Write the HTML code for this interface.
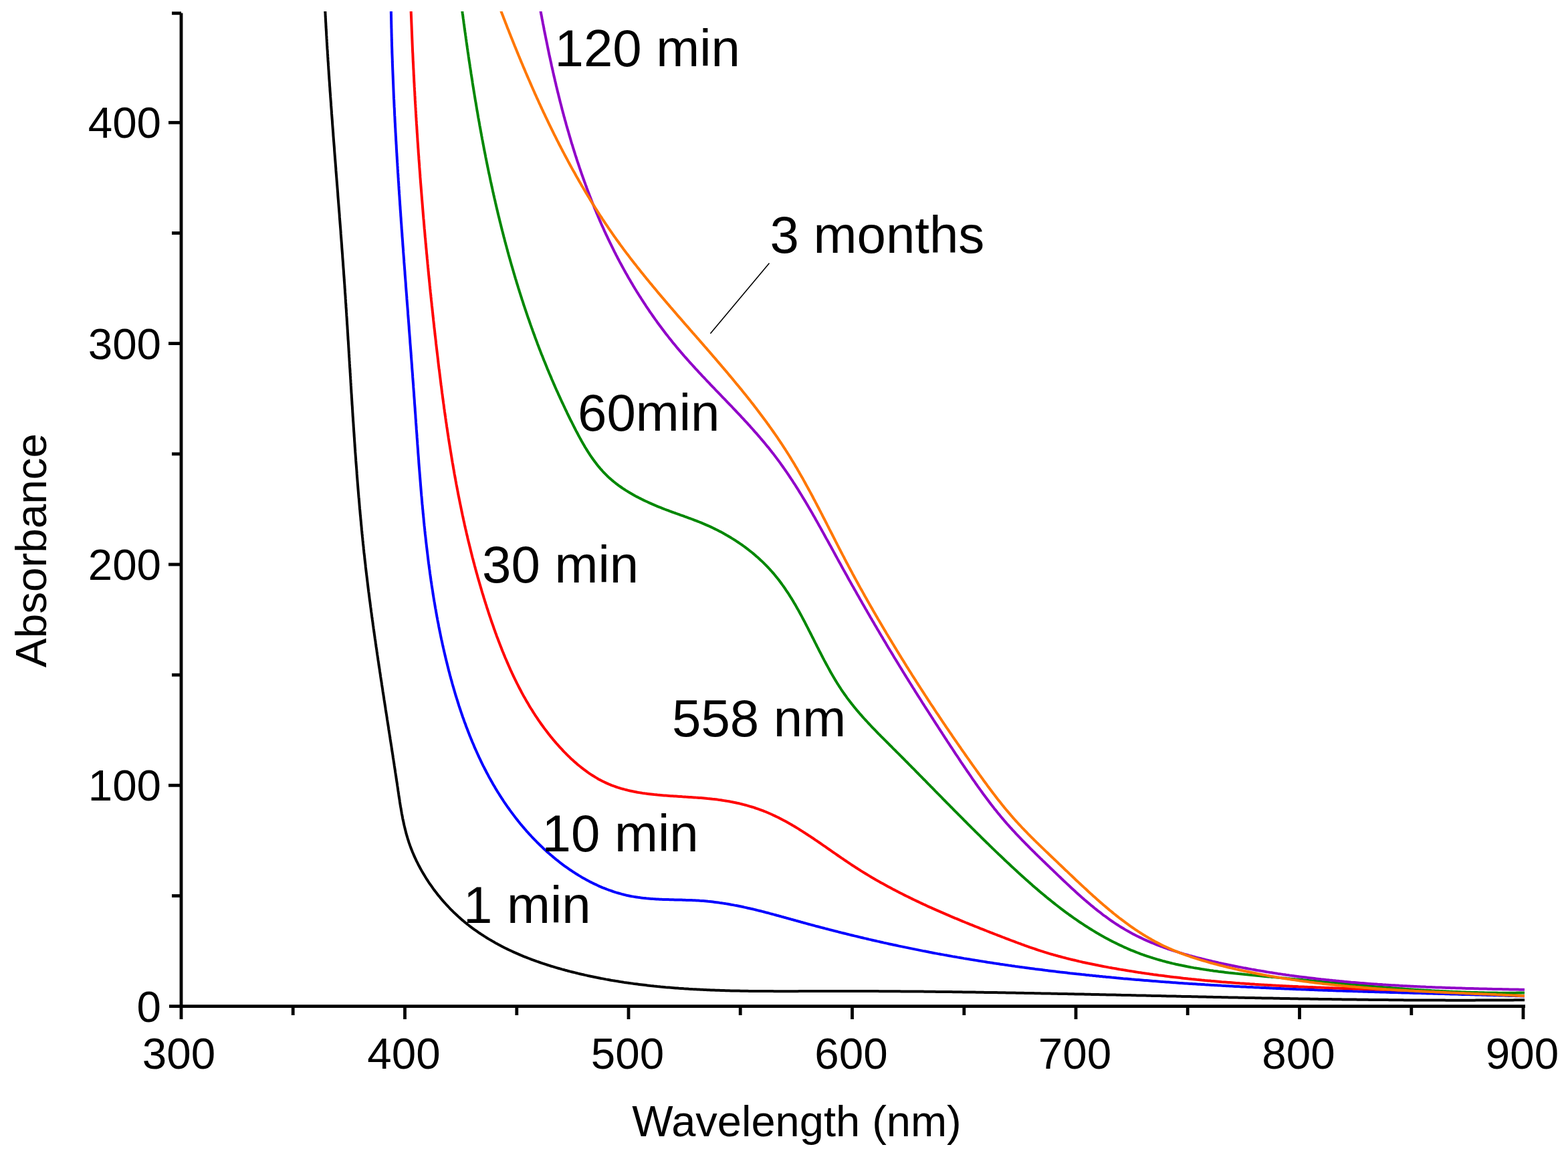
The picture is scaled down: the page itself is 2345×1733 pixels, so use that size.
<!DOCTYPE html>
<html><head><meta charset="utf-8"><title>Absorbance vs Wavelength</title>
<style>
html,body{margin:0;padding:0;background:#fff;overflow:hidden;}
svg{display:block;}
text{font-family:"Liberation Sans",Arial,sans-serif;fill:#000;}
</style></head>
<body>
<svg width="2345" height="1733" viewBox="0 0 2345 1733">
<rect width="2345" height="1733" fill="#fff"/>
<defs><clipPath id="plot"><rect x="271" y="17" width="2015" height="1490"/></clipPath></defs>
<g clip-path="url(#plot)" fill="none" stroke-width="4.0" stroke-linejoin="round">
<path d="M485.7,5.0 485.8,7.5 485.9,10.0 486.1,12.5 486.2,15.0 486.3,17.5 486.5,20.0 486.6,22.5 486.7,25.0 486.9,27.5 487.0,30.0 487.1,32.5 487.3,35.0 487.4,37.5 487.5,40.0 487.7,42.5 487.8,45.0 488.0,47.5 488.1,49.9 488.2,52.4 488.4,54.9 488.5,57.4 488.7,59.9 488.8,62.4 489.0,64.9 489.1,67.4 489.3,69.9 489.4,72.4 489.6,74.9 489.8,77.4 489.9,79.9 490.1,82.4 490.2,84.9 490.4,87.4 490.5,89.9 490.7,92.4 490.9,94.9 491.0,97.4 491.2,99.9 491.3,102.3 491.5,104.8 491.7,107.3 491.8,109.8 492.0,112.3 492.2,114.8 492.3,117.3 492.5,119.8 492.7,122.3 492.9,124.8 493.0,127.3 493.2,129.8 493.4,132.3 493.5,134.8 493.7,137.3 493.9,139.8 494.1,142.3 494.2,144.7 494.4,147.2 494.6,149.7 494.8,152.2 495.0,154.7 495.1,157.2 495.3,159.7 495.5,162.2 495.7,164.7 495.9,167.2 496.0,169.7 496.2,172.2 496.4,174.7 496.6,177.2 496.8,179.7 497.0,182.2 497.1,184.6 497.3,187.1 497.5,189.6 497.7,192.1 497.9,194.6 498.1,197.1 498.3,199.6 498.4,202.1 498.6,204.6 498.8,207.1 499.0,209.6 499.2,212.1 499.4,214.6 499.6,217.1 499.8,219.5 500.0,222.0 500.1,224.5 500.3,227.0 500.5,229.5 500.7,232.0 500.9,234.5 501.1,237.0 501.3,239.5 501.5,242.0 501.7,244.5 501.9,247.0 502.1,249.5 502.3,252.0 502.4,254.4 502.6,256.9 502.8,259.4 503.0,261.9 503.2,264.4 503.4,266.9 503.6,269.4 503.8,271.9 504.0,274.4 504.2,276.9 504.4,279.4 504.6,281.9 504.8,284.4 505.0,286.8 505.2,289.3 505.3,291.8 505.5,294.3 505.7,296.8 505.9,299.3 506.1,301.8 506.3,304.3 506.5,306.8 506.7,309.3 506.9,311.8 507.1,314.3 507.3,316.8 507.5,319.2 507.7,321.7 507.8,324.2 508.0,326.7 508.2,329.2 508.4,331.7 508.6,334.2 508.8,336.7 509.0,339.2 509.2,341.7 509.4,344.2 509.6,346.7 509.7,349.2 509.9,351.7 510.1,354.1 510.3,356.6 510.5,359.1 510.7,361.6 510.9,364.1 511.1,366.6 511.2,369.1 511.4,371.6 511.6,374.1 511.8,376.6 512.0,379.1 512.2,381.6 512.3,384.1 512.5,386.6 512.7,389.1 512.9,391.5 513.1,394.0 513.2,396.5 513.4,399.0 513.6,401.5 513.8,404.0 514.0,406.5 514.1,409.0 514.3,411.5 514.5,414.0 514.7,416.5 514.8,419.0 515.0,421.5 515.2,424.0 515.4,426.5 515.5,429.0 515.7,431.4 515.9,433.9 516.0,436.4 516.2,438.9 516.4,441.4 516.6,443.9 516.7,446.4 516.9,448.9 517.0,451.4 517.2,453.9 517.4,456.4 517.5,458.9 517.7,461.4 517.9,463.9 518.0,466.4 518.2,468.9 518.3,471.4 518.5,473.9 518.7,476.3 518.8,478.8 519.0,481.3 519.1,483.8 519.3,486.3 519.5,488.8 519.6,491.3 519.8,493.8 519.9,496.3 520.1,498.8 520.2,501.3 520.4,503.8 520.5,506.3 520.7,508.8 520.9,511.3 521.0,513.8 521.2,516.3 521.3,518.8 521.5,521.3 521.6,523.8 521.8,526.3 521.9,528.7 522.1,531.2 522.2,533.7 522.4,536.2 522.5,538.7 522.7,541.2 522.8,543.7 523.0,546.2 523.1,548.7 523.3,551.2 523.5,553.7 523.6,556.2 523.8,558.7 523.9,561.2 524.1,563.7 524.2,566.2 524.4,568.7 524.5,571.2 524.7,573.7 524.8,576.2 525.0,578.7 525.1,581.1 525.3,583.6 525.4,586.1 525.6,588.6 525.8,591.1 525.9,593.6 526.1,596.1 526.2,598.6 526.4,601.1 526.5,603.6 526.7,606.1 526.9,608.6 527.0,611.1 527.2,613.6 527.3,616.1 527.5,618.6 527.6,621.1 527.8,623.6 528.0,626.1 528.1,628.6 528.3,631.0 528.5,633.5 528.6,636.0 528.8,638.5 529.0,641.0 529.1,643.5 529.3,646.0 529.5,648.5 529.6,651.0 529.8,653.5 530.0,656.0 530.1,658.5 530.3,661.0 530.5,663.5 530.6,666.0 530.8,668.5 531.0,671.0 531.2,673.5 531.3,675.9 531.5,678.4 531.7,680.9 531.9,683.4 532.1,685.9 532.2,688.4 532.4,690.9 532.6,693.4 532.8,695.9 533.0,698.4 533.2,700.9 533.4,703.4 533.6,705.9 533.7,708.4 533.9,710.9 534.1,713.3 534.3,715.8 534.5,718.3 534.7,720.8 534.9,723.3 535.1,725.8 535.3,728.3 535.5,730.8 535.7,733.3 535.9,735.8 536.1,738.3 536.3,740.8 536.5,743.2 536.8,745.7 537.0,748.2 537.2,750.7 537.4,753.2 537.6,755.7 537.8,758.2 538.0,760.7 538.3,763.2 538.5,765.7 538.7,768.2 538.9,770.6 539.2,773.1 539.4,775.6 539.6,778.1 539.9,780.6 540.1,783.1 540.3,785.6 540.6,788.1 540.8,790.6 541.0,793.0 541.3,795.5 541.5,798.0 541.8,800.5 542.0,803.0 542.3,805.5 542.5,808.0 542.8,810.5 543.0,812.9 543.3,815.4 543.6,817.9 543.8,820.4 544.1,822.9 544.3,825.4 544.6,827.9 544.9,830.3 545.2,832.8 545.4,835.3 545.7,837.8 546.0,840.3 546.3,842.8 546.6,845.3 546.8,847.7 547.1,850.2 547.4,852.7 547.7,855.2 548.0,857.7 548.3,860.2 548.6,862.6 548.9,865.1 549.2,867.6 549.5,870.1 549.8,872.6 550.1,875.0 550.4,877.5 550.7,880.0 551.0,882.5 551.3,885.0 551.7,887.4 552.0,889.9 552.3,892.4 552.6,894.9 552.9,897.4 553.3,899.8 553.6,902.3 553.9,904.8 554.2,907.3 554.6,909.8 554.9,912.2 555.2,914.7 555.6,917.2 555.9,919.7 556.2,922.1 556.6,924.6 556.9,927.1 557.3,929.6 557.6,932.0 557.9,934.5 558.3,937.0 558.6,939.5 559.0,942.0 559.3,944.4 559.7,946.9 560.0,949.4 560.4,951.9 560.7,954.3 561.1,956.8 561.5,959.3 561.8,961.8 562.2,964.2 562.5,966.7 562.9,969.2 563.3,971.6 563.6,974.1 564.0,976.6 564.3,979.1 564.7,981.5 565.1,984.0 565.4,986.5 565.8,989.0 566.2,991.4 566.5,993.9 566.9,996.4 567.3,998.9 567.7,1001.3 568.0,1003.8 568.4,1006.3 568.8,1008.7 569.1,1011.2 569.5,1013.7 569.9,1016.2 570.3,1018.6 570.7,1021.1 571.0,1023.6 571.4,1026.0 571.8,1028.5 572.2,1031.0 572.5,1033.5 572.9,1035.9 573.3,1038.4 573.7,1040.9 574.1,1043.3 574.4,1045.8 574.8,1048.3 575.2,1050.7 575.6,1053.2 576.0,1055.7 576.4,1058.2 576.7,1060.6 577.1,1063.1 577.5,1065.6 577.9,1068.0 578.3,1070.5 578.7,1073.0 579.0,1075.5 579.4,1077.9 579.8,1080.4 580.2,1082.9 580.6,1085.3 581.0,1087.8 581.3,1090.3 581.7,1092.7 582.1,1095.2 582.5,1097.7 582.9,1100.2 583.3,1102.6 583.6,1105.1 584.0,1107.6 584.4,1110.0 584.8,1112.5 585.2,1115.0 585.6,1117.5 585.9,1119.9 586.3,1122.4 586.7,1124.9 587.1,1127.3 587.5,1129.8 587.8,1132.3 588.2,1134.7 588.6,1137.2 589.0,1139.7 589.4,1142.2 589.7,1144.6 590.1,1147.1 590.5,1149.6 590.9,1152.0 591.2,1154.5 591.6,1157.0 592.0,1159.5 592.4,1161.9 592.7,1164.4 593.1,1166.9 593.5,1169.3 593.9,1171.8 594.2,1174.3 594.6,1176.8 595.0,1179.2 595.3,1181.7 595.7,1184.2 596.1,1186.7 596.4,1189.1 596.8,1191.6 597.2,1194.1 597.6,1196.5 597.9,1199.0 598.3,1201.5 598.7,1204.0 599.1,1206.4 599.6,1208.9 600.0,1211.3 600.4,1213.8 600.8,1216.3 601.3,1218.7 601.8,1221.2 602.2,1223.6 602.7,1226.1 603.3,1228.5 603.8,1231.0 604.3,1233.4 604.9,1235.9 605.5,1238.3 606.1,1240.7 606.7,1243.1 607.3,1245.6 608.0,1248.0 608.7,1250.4 609.4,1252.8 610.1,1255.2 610.9,1257.5 611.6,1259.9 612.5,1262.3 613.3,1264.6 614.2,1267.0 615.0,1269.3 616.0,1271.6 616.9,1274.0 617.9,1276.3 618.9,1278.6 619.9,1280.9 620.9,1283.1 622.0,1285.4 623.0,1287.6 624.2,1289.9 625.3,1292.1 626.4,1294.3 627.6,1296.5 628.8,1298.7 630.0,1300.9 631.2,1303.1 632.5,1305.3 633.8,1307.4 635.1,1309.6 636.4,1311.7 637.7,1313.8 639.1,1315.9 640.4,1318.0 641.8,1320.1 643.2,1322.1 644.7,1324.2 646.1,1326.2 647.6,1328.3 649.0,1330.3 650.5,1332.3 652.1,1334.3 653.6,1336.2 655.1,1338.2 656.7,1340.1 658.3,1342.1 659.9,1344.0 661.5,1345.9 663.2,1347.8 664.8,1349.7 666.5,1351.5 668.2,1353.4 669.9,1355.2 671.6,1357.0 673.3,1358.8 675.1,1360.6 676.9,1362.4 678.6,1364.1 680.4,1365.8 682.3,1367.5 684.1,1369.2 685.9,1370.9 687.8,1372.6 689.7,1374.2 691.6,1375.9 693.5,1377.5 695.4,1379.1 697.4,1380.6 699.3,1382.2 701.3,1383.8 703.3,1385.3 705.3,1386.8 707.3,1388.3 709.3,1389.8 711.3,1391.2 713.4,1392.7 715.4,1394.1 717.5,1395.5 719.6,1396.9 721.7,1398.2 723.8,1399.6 725.9,1400.9 728.0,1402.3 730.1,1403.6 732.3,1404.9 734.4,1406.1 736.6,1407.4 738.7,1408.6 740.9,1409.9 743.1,1411.1 745.3,1412.3 747.5,1413.4 749.7,1414.6 751.9,1415.7 754.2,1416.9 756.4,1418.0 758.7,1419.1 760.9,1420.2 763.2,1421.3 765.4,1422.3 767.7,1423.4 770.0,1424.4 772.3,1425.4 774.6,1426.4 776.9,1427.4 779.2,1428.4 781.5,1429.3 783.8,1430.3 786.1,1431.2 788.4,1432.1 790.8,1433.0 793.1,1433.9 795.4,1434.8 797.8,1435.7 800.1,1436.5 802.5,1437.4 804.8,1438.2 807.2,1439.0 809.6,1439.8 811.9,1440.6 814.3,1441.4 816.7,1442.2 819.1,1443.0 821.4,1443.7 823.8,1444.5 826.2,1445.2 828.6,1445.9 831.0,1446.6 833.4,1447.3 835.8,1448.0 838.2,1448.7 840.6,1449.4 843.0,1450.0 845.4,1450.7 847.9,1451.3 850.3,1452.0 852.7,1452.6 855.1,1453.2 857.5,1453.8 860.0,1454.4 862.4,1455.0 864.8,1455.6 867.3,1456.2 869.7,1456.8 872.1,1457.3 874.6,1457.9 877.0,1458.4 879.4,1459.0 881.9,1459.5 884.3,1460.0 886.8,1460.5 889.2,1461.0 891.7,1461.5 894.1,1462.0 896.6,1462.5 899.0,1463.0 901.5,1463.4 904.0,1463.9 906.4,1464.4 908.9,1464.8 911.3,1465.2 913.8,1465.7 916.3,1466.1 918.7,1466.5 921.2,1466.9 923.7,1467.3 926.1,1467.7 928.6,1468.1 931.1,1468.5 933.5,1468.9 936.0,1469.2 938.5,1469.6 941.0,1469.9 943.4,1470.3 945.9,1470.6 948.4,1471.0 950.9,1471.3 953.3,1471.6 955.8,1471.9 958.3,1472.2 960.8,1472.5 963.3,1472.8 965.8,1473.1 968.2,1473.4 970.7,1473.7 973.2,1474.0 975.7,1474.2 978.2,1474.5 980.7,1474.7 983.2,1475.0 985.6,1475.2 988.1,1475.5 990.6,1475.7 993.1,1475.9 995.6,1476.2 998.1,1476.4 1000.6,1476.6 1003.1,1476.8 1005.6,1477.0 1008.1,1477.2 1010.6,1477.4 1013.0,1477.6 1015.5,1477.8 1018.0,1477.9 1020.5,1478.1 1023.0,1478.3 1025.5,1478.4 1028.0,1478.6 1030.5,1478.8 1033.0,1478.9 1035.5,1479.1 1038.0,1479.2 1040.5,1479.3 1043.0,1479.5 1045.5,1479.6 1048.0,1479.7 1050.5,1479.8 1053.0,1480.0 1055.5,1480.1 1058.0,1480.2 1060.5,1480.3 1063.0,1480.4 1065.5,1480.5 1068.0,1480.6 1070.5,1480.7 1073.0,1480.8 1075.5,1480.8 1078.0,1480.9 1080.5,1481.0 1082.9,1481.1 1085.4,1481.2 1087.9,1481.2 1090.4,1481.3 1092.9,1481.4 1095.4,1481.4 1097.9,1481.5 1100.4,1481.5 1102.9,1481.6 1105.4,1481.6 1107.9,1481.7 1110.4,1481.7 1112.9,1481.8 1115.4,1481.8 1117.9,1481.8 1120.4,1481.9 1122.9,1481.9 1125.4,1481.9 1127.9,1482.0 1130.4,1482.0 1132.9,1482.0 1135.4,1482.0 1137.9,1482.1 1140.4,1482.1 1142.9,1482.1 1145.4,1482.1 1147.9,1482.1 1150.4,1482.1 1152.9,1482.1 1155.4,1482.1 1157.9,1482.2 1160.4,1482.2 1162.9,1482.2 1165.4,1482.2 1167.9,1482.2 1170.4,1482.2 1172.9,1482.2 1175.4,1482.2 1177.9,1482.2 1180.4,1482.2 1182.9,1482.2 1185.4,1482.2 1187.9,1482.2 1190.4,1482.2 1192.9,1482.2 1195.4,1482.1 1197.9,1482.1 1200.4,1482.1 1202.9,1482.1 1205.4,1482.1 1207.9,1482.1 1210.4,1482.1 1212.9,1482.1 1215.4,1482.1 1217.9,1482.1 1220.4,1482.1 1222.9,1482.1 1225.4,1482.1 1227.9,1482.1 1230.4,1482.0 1232.9,1482.0 1235.4,1482.0 1237.9,1482.0 1240.4,1482.0 1242.9,1482.0 1245.4,1482.0 1247.9,1482.0 1250.4,1482.0 1252.9,1482.0 1255.4,1482.0 1257.9,1482.0 1260.4,1482.0 1262.9,1482.0 1265.4,1482.0 1267.9,1482.0 1270.4,1482.0 1272.9,1482.0 1275.4,1482.0 1277.9,1482.0 1280.4,1482.0 1282.9,1482.0 1285.4,1482.0 1287.9,1482.0 1290.4,1482.1 1292.9,1482.1 1295.4,1482.1 1297.9,1482.1 1300.4,1482.1 1302.9,1482.1 1305.4,1482.1 1307.9,1482.1 1310.4,1482.1 1312.9,1482.1 1315.4,1482.2 1317.9,1482.2 1320.4,1482.2 1322.9,1482.2 1325.4,1482.2 1327.9,1482.2 1330.4,1482.2 1332.9,1482.3 1335.4,1482.3 1337.9,1482.3 1340.4,1482.3 1342.9,1482.3 1345.4,1482.3 1347.9,1482.4 1350.4,1482.4 1352.9,1482.4 1355.4,1482.4 1357.9,1482.4 1360.4,1482.5 1362.9,1482.5 1365.4,1482.5 1367.9,1482.5 1370.4,1482.6 1372.9,1482.6 1375.4,1482.6 1377.9,1482.6 1380.4,1482.6 1382.9,1482.7 1385.4,1482.7 1387.9,1482.7 1390.4,1482.8 1392.9,1482.8 1395.4,1482.8 1397.9,1482.8 1400.4,1482.9 1402.9,1482.9 1405.4,1482.9 1407.9,1483.0 1410.4,1483.0 1412.9,1483.0 1415.4,1483.0 1417.9,1483.1 1420.4,1483.1 1422.9,1483.1 1425.4,1483.2 1427.9,1483.2 1430.4,1483.2 1432.9,1483.3 1435.4,1483.3 1437.9,1483.3 1440.4,1483.4 1442.9,1483.4 1445.4,1483.4 1447.9,1483.5 1450.4,1483.5 1452.9,1483.6 1455.4,1483.6 1457.9,1483.6 1460.4,1483.7 1462.9,1483.7 1465.4,1483.7 1467.9,1483.8 1470.4,1483.8 1472.9,1483.9 1475.4,1483.9 1477.9,1483.9 1480.4,1484.0 1482.9,1484.0 1485.4,1484.1 1487.9,1484.1 1490.4,1484.1 1492.9,1484.2 1495.4,1484.2 1497.9,1484.3 1500.4,1484.3 1502.9,1484.3 1505.4,1484.4 1507.9,1484.4 1510.4,1484.5 1512.9,1484.5 1515.4,1484.6 1517.9,1484.6 1520.4,1484.7 1522.9,1484.7 1525.4,1484.7 1527.9,1484.8 1530.4,1484.8 1532.9,1484.9 1535.4,1484.9 1537.9,1485.0 1540.4,1485.0 1542.9,1485.1 1545.4,1485.1 1547.9,1485.2 1550.4,1485.2 1552.9,1485.3 1555.4,1485.3 1557.9,1485.4 1560.4,1485.4 1562.9,1485.5 1565.4,1485.5 1567.9,1485.6 1570.4,1485.6 1572.9,1485.7 1575.4,1485.7 1577.9,1485.8 1580.4,1485.8 1582.9,1485.9 1585.4,1485.9 1587.9,1486.0 1590.4,1486.0 1592.9,1486.1 1595.4,1486.1 1597.9,1486.2 1600.4,1486.2 1602.9,1486.3 1605.4,1486.3 1607.9,1486.4 1610.4,1486.4 1612.9,1486.5 1615.4,1486.5 1617.9,1486.6 1620.4,1486.6 1622.9,1486.7 1625.4,1486.7 1627.9,1486.8 1630.4,1486.8 1632.9,1486.9 1635.4,1486.9 1637.9,1487.0 1640.4,1487.1 1642.9,1487.1 1645.4,1487.2 1647.9,1487.2 1650.4,1487.3 1652.9,1487.3 1655.4,1487.4 1657.9,1487.4 1660.4,1487.5 1662.9,1487.5 1665.4,1487.6 1667.9,1487.6 1670.4,1487.7 1672.9,1487.8 1675.4,1487.8 1677.9,1487.9 1680.4,1487.9 1682.9,1488.0 1685.4,1488.0 1687.9,1488.1 1690.4,1488.1 1692.9,1488.2 1695.4,1488.3 1697.9,1488.3 1700.4,1488.4 1702.9,1488.4 1705.4,1488.5 1707.9,1488.5 1710.4,1488.6 1712.9,1488.6 1715.4,1488.7 1717.9,1488.8 1720.4,1488.8 1722.9,1488.9 1725.4,1488.9 1727.9,1489.0 1730.4,1489.0 1732.9,1489.1 1735.4,1489.1 1737.9,1489.2 1740.4,1489.3 1742.9,1489.3 1745.4,1489.4 1747.9,1489.4 1750.4,1489.5 1752.9,1489.5 1755.4,1489.6 1757.9,1489.6 1760.4,1489.7 1762.9,1489.7 1765.4,1489.8 1767.9,1489.9 1770.4,1489.9 1772.9,1490.0 1775.4,1490.0 1777.9,1490.1 1780.4,1490.1 1782.9,1490.2 1785.4,1490.2 1787.9,1490.3 1790.4,1490.3 1792.9,1490.4 1795.4,1490.5 1797.9,1490.5 1800.4,1490.6 1802.9,1490.6 1805.4,1490.7 1807.9,1490.7 1810.4,1490.8 1812.9,1490.8 1815.4,1490.9 1817.9,1490.9 1820.4,1491.0 1822.9,1491.0 1825.4,1491.1 1827.9,1491.2 1830.4,1491.2 1832.9,1491.3 1835.4,1491.3 1837.9,1491.4 1840.4,1491.4 1842.9,1491.5 1845.3,1491.5 1847.8,1491.6 1850.3,1491.6 1852.8,1491.7 1855.3,1491.7 1857.8,1491.8 1860.3,1491.8 1862.8,1491.9 1865.3,1491.9 1867.8,1492.0 1870.3,1492.0 1872.8,1492.1 1875.3,1492.1 1877.8,1492.2 1880.3,1492.2 1882.8,1492.3 1885.3,1492.3 1887.8,1492.4 1890.3,1492.4 1892.8,1492.5 1895.3,1492.5 1897.8,1492.6 1900.3,1492.6 1902.8,1492.6 1905.3,1492.7 1907.8,1492.7 1910.3,1492.8 1912.8,1492.8 1915.3,1492.9 1917.8,1492.9 1920.3,1493.0 1922.8,1493.0 1925.3,1493.1 1927.8,1493.1 1930.3,1493.2 1932.8,1493.2 1935.3,1493.2 1937.8,1493.3 1940.3,1493.3 1942.8,1493.4 1945.3,1493.4 1947.8,1493.5 1950.3,1493.5 1952.8,1493.5 1955.3,1493.6 1957.8,1493.6 1960.3,1493.7 1962.8,1493.7 1965.3,1493.7 1967.8,1493.8 1970.3,1493.8 1972.8,1493.9 1975.3,1493.9 1977.8,1493.9 1980.3,1494.0 1982.8,1494.0 1985.3,1494.1 1987.8,1494.1 1990.3,1494.1 1992.8,1494.2 1995.3,1494.2 1997.8,1494.2 2000.3,1494.3 2002.8,1494.3 2005.3,1494.3 2007.8,1494.4 2010.3,1494.4 2012.8,1494.4 2015.3,1494.5 2017.8,1494.5 2020.3,1494.5 2022.8,1494.6 2025.3,1494.6 2027.8,1494.6 2030.3,1494.7 2032.8,1494.7 2035.3,1494.7 2037.8,1494.8 2040.3,1494.8 2042.8,1494.8 2045.3,1494.8 2047.8,1494.9 2050.3,1494.9 2052.8,1494.9 2055.3,1495.0 2057.8,1495.0 2060.3,1495.0 2062.8,1495.0 2065.3,1495.1 2067.8,1495.1 2070.3,1495.1 2072.8,1495.1 2075.3,1495.1 2077.8,1495.2 2080.3,1495.2 2082.8,1495.2 2085.3,1495.2 2087.8,1495.3 2090.3,1495.3 2092.8,1495.3 2095.3,1495.3 2097.8,1495.3 2100.3,1495.4 2102.8,1495.4 2105.3,1495.4 2107.8,1495.4 2110.3,1495.4 2112.8,1495.4 2115.3,1495.5 2117.8,1495.5 2120.3,1495.5 2122.8,1495.5 2125.3,1495.5 2127.8,1495.5 2130.3,1495.5 2132.8,1495.6 2135.3,1495.6 2137.8,1495.6 2140.3,1495.6 2142.8,1495.6 2145.3,1495.6 2147.8,1495.6 2150.3,1495.6 2152.8,1495.6 2155.3,1495.6 2157.8,1495.6 2160.3,1495.6 2162.8,1495.7 2165.3,1495.7 2167.8,1495.7 2170.3,1495.7 2172.8,1495.7 2175.3,1495.7 2177.8,1495.7 2180.3,1495.7 2182.8,1495.7 2185.3,1495.7 2187.8,1495.7 2190.3,1495.7 2192.8,1495.7 2195.3,1495.7 2197.8,1495.7 2200.3,1495.7 2202.8,1495.7 2205.3,1495.7 2207.8,1495.6 2210.3,1495.6 2212.8,1495.6 2215.3,1495.6 2217.8,1495.6 2220.3,1495.6 2222.8,1495.6 2225.3,1495.6 2227.8,1495.6 2230.3,1495.6 2232.8,1495.6 2235.3,1495.5 2237.8,1495.5 2240.3,1495.5 2242.8,1495.5 2245.3,1495.5 2247.8,1495.5 2250.3,1495.5 2252.8,1495.4 2255.3,1495.4 2257.8,1495.4 2260.3,1495.4 2262.8,1495.4 2265.3,1495.3 2267.8,1495.3 2270.3,1495.3 2272.8,1495.3 2275.3,1495.3 2277.8,1495.2 2280.1,1495.2" stroke="#000000"/>
<path d="M584.7,5.0 584.7,7.5 584.8,10.0 584.8,12.5 584.9,15.0 584.9,17.5 584.9,20.0 585.0,22.5 585.0,25.0 585.1,27.5 585.1,30.0 585.2,32.5 585.2,34.9 585.3,37.4 585.3,39.9 585.4,42.4 585.5,44.9 585.5,47.4 585.6,49.9 585.6,52.4 585.7,54.9 585.8,57.4 585.8,59.9 585.9,62.4 586.0,64.9 586.0,67.4 586.1,69.9 586.2,72.4 586.3,74.9 586.3,77.4 586.4,79.9 586.5,82.4 586.6,84.9 586.7,87.4 586.8,89.9 586.8,92.4 586.9,94.9 587.0,97.4 587.1,99.9 587.2,102.4 587.3,104.9 587.4,107.4 587.5,109.9 587.6,112.4 587.7,114.9 587.8,117.4 587.9,119.9 588.0,122.4 588.1,124.9 588.2,127.4 588.3,129.9 588.4,132.4 588.5,134.9 588.6,137.4 588.7,139.9 588.8,142.4 588.9,144.9 589.0,147.4 589.2,149.9 589.3,152.4 589.4,154.9 589.5,157.4 589.6,159.9 589.8,162.4 589.9,164.9 590.0,167.4 590.1,169.9 590.2,172.4 590.4,174.9 590.5,177.3 590.6,179.8 590.7,182.3 590.9,184.8 591.0,187.3 591.1,189.8 591.3,192.3 591.4,194.8 591.5,197.3 591.7,199.8 591.8,202.3 592.0,204.8 592.1,207.3 592.2,209.8 592.4,212.3 592.5,214.8 592.7,217.3 592.8,219.8 592.9,222.3 593.1,224.8 593.2,227.3 593.4,229.8 593.5,232.3 593.7,234.8 593.8,237.3 594.0,239.8 594.1,242.2 594.3,244.7 594.4,247.2 594.6,249.7 594.7,252.2 594.9,254.7 595.0,257.2 595.2,259.7 595.4,262.2 595.5,264.7 595.7,267.2 595.8,269.7 596.0,272.2 596.2,274.7 596.3,277.2 596.5,279.7 596.6,282.2 596.8,284.7 597.0,287.2 597.1,289.7 597.3,292.1 597.5,294.6 597.6,297.1 597.8,299.6 598.0,302.1 598.1,304.6 598.3,307.1 598.5,309.6 598.6,312.1 598.8,314.6 599.0,317.1 599.2,319.6 599.3,322.1 599.5,324.6 599.7,327.1 599.8,329.6 600.0,332.1 600.2,334.5 600.4,337.0 600.5,339.5 600.7,342.0 600.9,344.5 601.1,347.0 601.3,349.5 601.4,352.0 601.6,354.5 601.8,357.0 602.0,359.5 602.2,362.0 602.3,364.5 602.5,367.0 602.7,369.5 602.9,371.9 603.1,374.4 603.2,376.9 603.4,379.4 603.6,381.9 603.8,384.4 604.0,386.9 604.2,389.4 604.3,391.9 604.5,394.4 604.7,396.9 604.9,399.4 605.1,401.9 605.3,404.4 605.5,406.9 605.6,409.3 605.8,411.8 606.0,414.3 606.2,416.8 606.4,419.3 606.6,421.8 606.8,424.3 606.9,426.8 607.1,429.3 607.3,431.8 607.5,434.3 607.7,436.8 607.9,439.3 608.1,441.8 608.3,444.2 608.4,446.7 608.6,449.2 608.8,451.7 609.0,454.2 609.2,456.7 609.4,459.2 609.6,461.7 609.8,464.2 610.0,466.7 610.1,469.2 610.3,471.7 610.5,474.2 610.7,476.7 610.9,479.1 611.1,481.6 611.3,484.1 611.5,486.6 611.7,489.1 611.8,491.6 612.0,494.1 612.2,496.6 612.4,499.1 612.6,501.6 612.8,504.1 613.0,506.6 613.2,509.1 613.3,511.6 613.5,514.1 613.7,516.5 613.9,519.0 614.1,521.5 614.3,524.0 614.5,526.5 614.7,529.0 614.8,531.5 615.0,534.0 615.2,536.5 615.4,539.0 615.6,541.5 615.8,544.0 616.0,546.5 616.1,549.0 616.3,551.4 616.5,553.9 616.7,556.4 616.9,558.9 617.1,561.4 617.2,563.9 617.4,566.4 617.6,568.9 617.8,571.4 618.0,573.9 618.2,576.4 618.3,578.9 618.5,581.4 618.7,583.9 618.9,586.4 619.1,588.8 619.2,591.3 619.4,593.8 619.6,596.3 619.8,598.8 619.9,601.3 620.1,603.8 620.3,606.3 620.5,608.8 620.7,611.3 620.8,613.8 621.0,616.3 621.2,618.8 621.4,621.3 621.5,623.8 621.7,626.3 621.9,628.7 622.0,631.2 622.2,633.7 622.4,636.2 622.6,638.7 622.7,641.2 622.9,643.7 623.1,646.2 623.3,648.7 623.5,651.2 623.6,653.7 623.8,656.2 624.0,658.7 624.2,661.2 624.3,663.7 624.5,666.2 624.7,668.6 624.9,671.1 625.1,673.6 625.2,676.1 625.4,678.6 625.6,681.1 625.8,683.6 626.0,686.1 626.2,688.6 626.3,691.1 626.5,693.6 626.7,696.1 626.9,698.6 627.1,701.1 627.3,703.6 627.5,706.0 627.7,708.5 627.9,711.0 628.1,713.5 628.3,716.0 628.5,718.5 628.7,721.0 628.9,723.5 629.1,726.0 629.3,728.5 629.5,731.0 629.7,733.5 629.9,735.9 630.1,738.4 630.3,740.9 630.6,743.4 630.8,745.9 631.0,748.4 631.2,750.9 631.4,753.4 631.7,755.9 631.9,758.4 632.1,760.8 632.4,763.3 632.6,765.8 632.8,768.3 633.1,770.8 633.3,773.3 633.6,775.8 633.8,778.3 634.0,780.8 634.3,783.2 634.5,785.7 634.8,788.2 635.1,790.7 635.3,793.2 635.6,795.7 635.8,798.2 636.1,800.6 636.4,803.1 636.7,805.6 636.9,808.1 637.2,810.6 637.5,813.1 637.8,815.6 638.1,818.0 638.4,820.5 638.7,823.0 639.0,825.5 639.3,828.0 639.6,830.4 639.9,832.9 640.2,835.4 640.5,837.9 640.8,840.4 641.1,842.8 641.5,845.3 641.8,847.8 642.1,850.3 642.5,852.8 642.8,855.2 643.1,857.7 643.5,860.2 643.8,862.7 644.2,865.1 644.5,867.6 644.9,870.1 645.3,872.6 645.6,875.0 646.0,877.5 646.4,880.0 646.8,882.5 647.2,884.9 647.5,887.4 647.9,889.9 648.3,892.3 648.7,894.8 649.1,897.3 649.5,899.7 650.0,902.2 650.4,904.7 650.8,907.1 651.2,909.6 651.7,912.0 652.1,914.5 652.5,917.0 653.0,919.4 653.4,921.9 653.9,924.3 654.3,926.8 654.8,929.3 655.3,931.7 655.8,934.2 656.2,936.6 656.7,939.1 657.2,941.5 657.7,944.0 658.2,946.4 658.7,948.9 659.2,951.3 659.7,953.8 660.2,956.2 660.8,958.7 661.3,961.1 661.8,963.5 662.4,966.0 662.9,968.4 663.5,970.9 664.0,973.3 664.6,975.7 665.2,978.2 665.7,980.6 666.3,983.0 666.9,985.5 667.5,987.9 668.1,990.3 668.7,992.8 669.3,995.2 669.9,997.6 670.5,1000.0 671.1,1002.5 671.8,1004.9 672.4,1007.3 673.0,1009.7 673.7,1012.1 674.3,1014.5 675.0,1016.9 675.7,1019.4 676.3,1021.8 677.0,1024.2 677.7,1026.6 678.4,1029.0 679.1,1031.4 679.8,1033.8 680.5,1036.2 681.2,1038.6 681.9,1041.0 682.7,1043.3 683.4,1045.7 684.2,1048.1 684.9,1050.5 685.7,1052.9 686.4,1055.3 687.2,1057.6 688.0,1060.0 688.8,1062.4 689.6,1064.8 690.4,1067.1 691.2,1069.5 692.0,1071.9 692.9,1074.2 693.7,1076.6 694.5,1078.9 695.4,1081.3 696.3,1083.6 697.1,1086.0 698.0,1088.3 698.9,1090.6 699.8,1093.0 700.7,1095.3 701.6,1097.6 702.5,1099.9 703.5,1102.3 704.4,1104.6 705.4,1106.9 706.3,1109.2 707.3,1111.5 708.3,1113.8 709.2,1116.1 710.2,1118.4 711.2,1120.7 712.3,1123.0 713.3,1125.3 714.3,1127.5 715.4,1129.8 716.4,1132.1 717.5,1134.3 718.6,1136.6 719.6,1138.8 720.7,1141.1 721.8,1143.3 722.9,1145.6 724.1,1147.8 725.2,1150.0 726.4,1152.3 727.5,1154.5 728.7,1156.7 729.9,1158.9 731.0,1161.1 732.2,1163.3 733.5,1165.5 734.7,1167.7 735.9,1169.8 737.1,1172.0 738.4,1174.2 739.7,1176.3 740.9,1178.5 742.2,1180.6 743.5,1182.7 744.8,1184.9 746.2,1187.0 747.5,1189.1 748.8,1191.2 750.2,1193.3 751.6,1195.4 752.9,1197.5 754.3,1199.6 755.7,1201.6 757.1,1203.7 758.6,1205.8 760.0,1207.8 761.5,1209.8 762.9,1211.9 764.4,1213.9 765.9,1215.9 767.4,1217.9 768.9,1219.9 770.4,1221.9 771.9,1223.9 773.5,1225.8 775.0,1227.8 776.6,1229.7 778.2,1231.7 779.8,1233.6 781.4,1235.5 783.0,1237.4 784.6,1239.3 786.3,1241.2 787.9,1243.1 789.6,1244.9 791.3,1246.8 793.0,1248.6 794.7,1250.5 796.4,1252.3 798.1,1254.1 799.8,1255.9 801.6,1257.7 803.3,1259.5 805.1,1261.2 806.9,1263.0 808.7,1264.7 810.5,1266.4 812.3,1268.2 814.1,1269.9 816.0,1271.5 817.8,1273.2 819.7,1274.9 821.6,1276.5 823.5,1278.2 825.4,1279.8 827.3,1281.4 829.2,1283.0 831.1,1284.6 833.1,1286.2 835.1,1287.7 837.0,1289.3 839.0,1290.8 841.0,1292.3 843.0,1293.8 845.0,1295.3 847.0,1296.7 849.1,1298.2 851.1,1299.6 853.2,1301.0 855.3,1302.4 857.4,1303.8 859.5,1305.1 861.6,1306.5 863.7,1307.8 865.8,1309.1 868.0,1310.4 870.1,1311.7 872.3,1312.9 874.5,1314.1 876.6,1315.4 878.8,1316.5 881.1,1317.7 883.3,1318.9 885.5,1320.0 887.8,1321.1 890.0,1322.2 892.3,1323.2 894.5,1324.3 896.8,1325.3 899.1,1326.3 901.4,1327.3 903.7,1328.2 906.1,1329.1 908.4,1330.0 910.7,1330.9 913.1,1331.7 915.5,1332.5 917.8,1333.3 920.2,1334.1 922.6,1334.8 925.0,1335.5 927.4,1336.2 929.8,1336.9 932.2,1337.5 934.7,1338.1 937.1,1338.7 939.5,1339.2 942.0,1339.7 944.4,1340.2 946.9,1340.6 949.4,1341.1 951.8,1341.4 954.3,1341.8 956.8,1342.1 959.3,1342.5 961.7,1342.8 964.2,1343.0 966.7,1343.3 969.2,1343.5 971.7,1343.7 974.2,1343.9 976.7,1344.1 979.2,1344.2 981.7,1344.4 984.2,1344.5 986.7,1344.7 989.2,1344.8 991.7,1344.9 994.2,1345.0 996.7,1345.0 999.2,1345.1 1001.7,1345.2 1004.2,1345.3 1006.7,1345.3 1009.2,1345.4 1011.7,1345.5 1014.2,1345.5 1016.7,1345.6 1019.2,1345.6 1021.7,1345.7 1024.2,1345.8 1026.7,1345.9 1029.2,1345.9 1031.7,1346.0 1034.1,1346.1 1036.6,1346.2 1039.1,1346.3 1041.6,1346.5 1044.1,1346.6 1046.6,1346.8 1049.1,1346.9 1051.6,1347.1 1054.1,1347.3 1056.6,1347.5 1059.1,1347.8 1061.6,1348.0 1064.1,1348.3 1066.5,1348.6 1069.0,1348.9 1071.5,1349.2 1074.0,1349.5 1076.5,1349.9 1078.9,1350.2 1081.4,1350.6 1083.9,1351.0 1086.3,1351.4 1088.8,1351.8 1091.3,1352.2 1093.7,1352.7 1096.2,1353.1 1098.7,1353.6 1101.1,1354.0 1103.6,1354.5 1106.0,1355.0 1108.5,1355.5 1110.9,1356.0 1113.4,1356.6 1115.8,1357.1 1118.2,1357.7 1120.7,1358.2 1123.1,1358.8 1125.5,1359.3 1128.0,1359.9 1130.4,1360.5 1132.8,1361.1 1135.3,1361.7 1137.7,1362.3 1140.1,1362.9 1142.5,1363.5 1144.9,1364.2 1147.4,1364.8 1149.8,1365.4 1152.2,1366.1 1154.6,1366.7 1157.0,1367.4 1159.4,1368.0 1161.9,1368.7 1164.3,1369.3 1166.7,1370.0 1169.1,1370.7 1171.5,1371.3 1173.9,1372.0 1176.3,1372.7 1178.7,1373.3 1181.1,1374.0 1183.5,1374.7 1186.0,1375.3 1188.4,1376.0 1190.8,1376.7 1193.2,1377.3 1195.6,1378.0 1198.0,1378.7 1200.4,1379.3 1202.8,1380.0 1205.2,1380.6 1207.6,1381.3 1210.1,1382.0 1212.5,1382.6 1214.9,1383.3 1217.3,1383.9 1219.7,1384.6 1222.1,1385.2 1224.6,1385.8 1227.0,1386.5 1229.4,1387.1 1231.8,1387.7 1234.2,1388.4 1236.6,1389.0 1239.1,1389.6 1241.5,1390.3 1243.9,1390.9 1246.3,1391.5 1248.7,1392.1 1251.2,1392.7 1253.6,1393.4 1256.0,1394.0 1258.4,1394.6 1260.9,1395.2 1263.3,1395.8 1265.7,1396.4 1268.1,1397.0 1270.6,1397.6 1273.0,1398.2 1275.4,1398.8 1277.9,1399.4 1280.3,1399.9 1282.7,1400.5 1285.2,1401.1 1287.6,1401.7 1290.0,1402.3 1292.5,1402.9 1294.9,1403.4 1297.3,1404.0 1299.8,1404.6 1302.2,1405.1 1304.6,1405.7 1307.1,1406.3 1309.5,1406.8 1311.9,1407.4 1314.4,1407.9 1316.8,1408.5 1319.3,1409.0 1321.7,1409.6 1324.1,1410.1 1326.6,1410.6 1329.0,1411.2 1331.5,1411.7 1333.9,1412.2 1336.3,1412.8 1338.8,1413.3 1341.2,1413.8 1343.7,1414.4 1346.1,1414.9 1348.6,1415.4 1351.0,1415.9 1353.5,1416.4 1355.9,1416.9 1358.4,1417.4 1360.8,1417.9 1363.3,1418.4 1365.7,1418.9 1368.2,1419.4 1370.6,1419.9 1373.1,1420.4 1375.5,1420.9 1378.0,1421.4 1380.4,1421.9 1382.9,1422.3 1385.3,1422.8 1387.8,1423.3 1390.2,1423.8 1392.7,1424.2 1395.1,1424.7 1397.6,1425.2 1400.1,1425.6 1402.5,1426.1 1405.0,1426.5 1407.4,1427.0 1409.9,1427.4 1412.4,1427.9 1414.8,1428.3 1417.3,1428.8 1419.7,1429.2 1422.2,1429.6 1424.7,1430.1 1427.1,1430.5 1429.6,1430.9 1432.0,1431.4 1434.5,1431.8 1437.0,1432.2 1439.4,1432.6 1441.9,1433.1 1444.4,1433.5 1446.8,1433.9 1449.3,1434.3 1451.8,1434.7 1454.2,1435.1 1456.7,1435.5 1459.2,1435.9 1461.6,1436.3 1464.1,1436.7 1466.6,1437.1 1469.0,1437.5 1471.5,1437.9 1474.0,1438.3 1476.4,1438.7 1478.9,1439.1 1481.4,1439.4 1483.9,1439.8 1486.3,1440.2 1488.8,1440.6 1491.3,1440.9 1493.7,1441.3 1496.2,1441.7 1498.7,1442.0 1501.2,1442.4 1503.6,1442.8 1506.1,1443.1 1508.6,1443.5 1511.1,1443.8 1513.5,1444.2 1516.0,1444.5 1518.5,1444.9 1521.0,1445.2 1523.4,1445.6 1525.9,1445.9 1528.4,1446.2 1530.9,1446.6 1533.4,1446.9 1535.8,1447.2 1538.3,1447.6 1540.8,1447.9 1543.3,1448.2 1545.7,1448.5 1548.2,1448.9 1550.7,1449.2 1553.2,1449.5 1555.7,1449.8 1558.1,1450.1 1560.6,1450.4 1563.1,1450.8 1565.6,1451.1 1568.1,1451.4 1570.5,1451.7 1573.0,1452.0 1575.5,1452.3 1578.0,1452.6 1580.5,1452.9 1583.0,1453.2 1585.4,1453.5 1587.9,1453.7 1590.4,1454.0 1592.9,1454.3 1595.4,1454.6 1597.9,1454.9 1600.3,1455.2 1602.8,1455.4 1605.3,1455.7 1607.8,1456.0 1610.3,1456.3 1612.8,1456.5 1615.3,1456.8 1617.7,1457.1 1620.2,1457.3 1622.7,1457.6 1625.2,1457.9 1627.7,1458.1 1630.2,1458.4 1632.7,1458.6 1635.1,1458.9 1637.6,1459.1 1640.1,1459.4 1642.6,1459.6 1645.1,1459.9 1647.6,1460.1 1650.1,1460.4 1652.6,1460.6 1655.1,1460.9 1657.5,1461.1 1660.0,1461.3 1662.5,1461.6 1665.0,1461.8 1667.5,1462.0 1670.0,1462.3 1672.5,1462.5 1675.0,1462.7 1677.5,1462.9 1679.9,1463.2 1682.4,1463.4 1684.9,1463.6 1687.4,1463.8 1689.9,1464.0 1692.4,1464.3 1694.9,1464.5 1697.4,1464.7 1699.9,1464.9 1702.4,1465.1 1704.9,1465.3 1707.3,1465.5 1709.8,1465.7 1712.3,1465.9 1714.8,1466.1 1717.3,1466.3 1719.8,1466.5 1722.3,1466.7 1724.8,1466.9 1727.3,1467.1 1729.8,1467.3 1732.3,1467.5 1734.8,1467.7 1737.2,1467.9 1739.7,1468.1 1742.2,1468.2 1744.7,1468.4 1747.2,1468.6 1749.7,1468.8 1752.2,1469.0 1754.7,1469.2 1757.2,1469.3 1759.7,1469.5 1762.2,1469.7 1764.7,1469.9 1767.2,1470.0 1769.7,1470.2 1772.2,1470.4 1774.7,1470.5 1777.1,1470.7 1779.6,1470.9 1782.1,1471.0 1784.6,1471.2 1787.1,1471.3 1789.6,1471.5 1792.1,1471.7 1794.6,1471.8 1797.1,1472.0 1799.6,1472.1 1802.1,1472.3 1804.6,1472.4 1807.1,1472.6 1809.6,1472.7 1812.1,1472.9 1814.6,1473.0 1817.1,1473.2 1819.6,1473.3 1822.1,1473.5 1824.6,1473.6 1827.1,1473.8 1829.6,1473.9 1832.0,1474.0 1834.5,1474.2 1837.0,1474.3 1839.5,1474.5 1842.0,1474.6 1844.5,1474.7 1847.0,1474.9 1849.5,1475.0 1852.0,1475.1 1854.5,1475.3 1857.0,1475.4 1859.5,1475.5 1862.0,1475.6 1864.5,1475.8 1867.0,1475.9 1869.5,1476.0 1872.0,1476.1 1874.5,1476.3 1877.0,1476.4 1879.5,1476.5 1882.0,1476.6 1884.5,1476.8 1887.0,1476.9 1889.5,1477.0 1892.0,1477.1 1894.5,1477.2 1897.0,1477.3 1899.5,1477.4 1902.0,1477.6 1904.5,1477.7 1907.0,1477.8 1909.5,1477.9 1911.9,1478.0 1914.4,1478.1 1916.9,1478.2 1919.4,1478.3 1921.9,1478.4 1924.4,1478.5 1926.9,1478.6 1929.4,1478.7 1931.9,1478.8 1934.4,1478.9 1936.9,1479.0 1939.4,1479.2 1941.9,1479.3 1944.4,1479.3 1946.9,1479.4 1949.4,1479.5 1951.9,1479.6 1954.4,1479.7 1956.9,1479.8 1959.4,1479.9 1961.9,1480.0 1964.4,1480.1 1966.9,1480.2 1969.4,1480.3 1971.9,1480.4 1974.4,1480.5 1976.9,1480.6 1979.4,1480.7 1981.9,1480.8 1984.4,1480.8 1986.9,1480.9 1989.4,1481.0 1991.9,1481.1 1994.4,1481.2 1996.9,1481.3 1999.4,1481.4 2001.9,1481.4 2004.4,1481.5 2006.9,1481.6 2009.4,1481.7 2011.9,1481.8 2014.4,1481.9 2016.9,1481.9 2019.4,1482.0 2021.9,1482.1 2024.4,1482.2 2026.9,1482.3 2029.4,1482.3 2031.9,1482.4 2034.4,1482.5 2036.9,1482.6 2039.4,1482.7 2041.9,1482.7 2044.4,1482.8 2046.9,1482.9 2049.4,1483.0 2051.9,1483.0 2054.4,1483.1 2056.9,1483.2 2059.4,1483.3 2061.9,1483.3 2064.4,1483.4 2066.9,1483.5 2069.3,1483.6 2071.8,1483.6 2074.3,1483.7 2076.8,1483.8 2079.3,1483.9 2081.8,1483.9 2084.3,1484.0 2086.8,1484.1 2089.3,1484.1 2091.8,1484.2 2094.3,1484.3 2096.8,1484.4 2099.3,1484.4 2101.8,1484.5 2104.3,1484.6 2106.8,1484.6 2109.3,1484.7 2111.8,1484.8 2114.3,1484.9 2116.8,1484.9 2119.3,1485.0 2121.8,1485.1 2124.3,1485.1 2126.8,1485.2 2129.3,1485.3 2131.8,1485.3 2134.3,1485.4 2136.8,1485.5 2139.3,1485.5 2141.8,1485.6 2144.3,1485.7 2146.8,1485.8 2149.3,1485.8 2151.8,1485.9 2154.3,1486.0 2156.8,1486.0 2159.3,1486.1 2161.8,1486.2 2164.3,1486.2 2166.8,1486.3 2169.3,1486.4 2171.8,1486.4 2174.3,1486.5 2176.8,1486.6 2179.3,1486.6 2181.8,1486.7 2184.3,1486.8 2186.8,1486.9 2189.3,1486.9 2191.8,1487.0 2194.3,1487.1 2196.8,1487.1 2199.3,1487.2 2201.8,1487.3 2204.3,1487.3 2206.8,1487.4 2209.3,1487.5 2211.8,1487.6 2214.3,1487.6 2216.8,1487.7 2219.3,1487.8 2221.8,1487.8 2224.3,1487.9 2226.8,1488.0 2229.3,1488.1 2231.8,1488.1 2234.3,1488.2 2236.8,1488.3 2239.3,1488.3 2241.8,1488.4 2244.3,1488.5 2246.8,1488.6 2249.3,1488.6 2251.8,1488.7 2254.3,1488.8 2256.8,1488.9 2259.3,1488.9 2261.8,1489.0 2264.3,1489.1 2266.8,1489.2 2269.3,1489.2 2271.8,1489.3 2274.3,1489.4 2276.8,1489.5 2279.3,1489.6 2279.9,1489.6" stroke="#0000ff"/>
<path d="M614.3,5.1 614.4,7.6 614.5,10.1 614.5,12.6 614.6,15.1 614.7,17.6 614.8,20.1 614.9,22.6 615.0,25.1 615.1,27.6 615.2,30.1 615.3,32.6 615.4,35.0 615.5,37.5 615.6,40.0 615.7,42.5 615.8,45.0 615.9,47.5 616.0,50.0 616.1,52.5 616.2,55.0 616.3,57.5 616.4,60.0 616.5,62.5 616.6,65.0 616.7,67.5 616.8,70.0 616.9,72.5 617.0,75.0 617.1,77.5 617.3,80.0 617.4,82.5 617.5,85.0 617.6,87.5 617.7,90.0 617.8,92.5 618.0,95.0 618.1,97.5 618.2,100.0 618.3,102.5 618.5,105.0 618.6,107.5 618.7,110.0 618.8,112.5 619.0,115.0 619.1,117.5 619.2,120.0 619.3,122.5 619.5,125.0 619.6,127.5 619.7,129.9 619.9,132.4 620.0,134.9 620.2,137.4 620.3,139.9 620.4,142.4 620.6,144.9 620.7,147.4 620.8,149.9 621.0,152.4 621.1,154.9 621.3,157.4 621.4,159.9 621.6,162.4 621.7,164.9 621.9,167.4 622.0,169.9 622.2,172.4 622.3,174.9 622.5,177.4 622.6,179.9 622.8,182.4 622.9,184.9 623.1,187.3 623.3,189.8 623.4,192.3 623.6,194.8 623.7,197.3 623.9,199.8 624.1,202.3 624.2,204.8 624.4,207.3 624.5,209.8 624.7,212.3 624.9,214.8 625.1,217.3 625.2,219.8 625.4,222.3 625.6,224.8 625.7,227.3 625.9,229.8 626.1,232.2 626.3,234.7 626.4,237.2 626.6,239.7 626.8,242.2 627.0,244.7 627.2,247.2 627.3,249.7 627.5,252.2 627.7,254.7 627.9,257.2 628.1,259.7 628.3,262.2 628.4,264.7 628.6,267.2 628.8,269.6 629.0,272.1 629.2,274.6 629.4,277.1 629.6,279.6 629.8,282.1 630.0,284.6 630.2,287.1 630.4,289.6 630.6,292.1 630.8,294.6 631.0,297.1 631.2,299.6 631.4,302.0 631.6,304.5 631.8,307.0 632.0,309.5 632.2,312.0 632.4,314.5 632.6,317.0 632.8,319.5 633.0,322.0 633.2,324.5 633.4,327.0 633.7,329.5 633.9,331.9 634.1,334.4 634.3,336.9 634.5,339.4 634.7,341.9 635.0,344.4 635.2,346.9 635.4,349.4 635.6,351.9 635.8,354.4 636.1,356.8 636.3,359.3 636.5,361.8 636.7,364.3 637.0,366.8 637.2,369.3 637.4,371.8 637.7,374.3 637.9,376.8 638.1,379.3 638.4,381.7 638.6,384.2 638.8,386.7 639.1,389.2 639.3,391.7 639.5,394.2 639.8,396.7 640.0,399.2 640.3,401.7 640.5,404.1 640.7,406.6 641.0,409.1 641.2,411.6 641.5,414.1 641.7,416.6 642.0,419.1 642.2,421.6 642.5,424.0 642.7,426.5 643.0,429.0 643.2,431.5 643.5,434.0 643.7,436.5 644.0,439.0 644.3,441.5 644.5,443.9 644.8,446.4 645.0,448.9 645.3,451.4 645.6,453.9 645.8,456.4 646.1,458.9 646.4,461.3 646.6,463.8 646.9,466.3 647.2,468.8 647.4,471.3 647.7,473.8 648.0,476.3 648.2,478.7 648.5,481.2 648.8,483.7 649.1,486.2 649.3,488.7 649.6,491.2 649.9,493.6 650.2,496.1 650.4,498.6 650.7,501.1 651.0,503.6 651.3,506.1 651.6,508.6 651.9,511.0 652.1,513.5 652.4,516.0 652.7,518.5 653.0,521.0 653.3,523.5 653.6,525.9 653.9,528.4 654.2,530.9 654.5,533.4 654.8,535.9 655.1,538.4 655.3,540.8 655.6,543.3 655.9,545.8 656.2,548.3 656.5,550.8 656.9,553.2 657.2,555.7 657.5,558.2 657.8,560.7 658.1,563.2 658.4,565.6 658.7,568.1 659.0,570.6 659.3,573.1 659.6,575.6 660.0,578.0 660.3,580.5 660.6,583.0 660.9,585.5 661.2,588.0 661.6,590.4 661.9,592.9 662.2,595.4 662.6,597.9 662.9,600.4 663.2,602.8 663.6,605.3 663.9,607.8 664.2,610.3 664.6,612.7 664.9,615.2 665.3,617.7 665.6,620.2 666.0,622.6 666.3,625.1 666.7,627.6 667.0,630.1 667.4,632.5 667.8,635.0 668.1,637.5 668.5,640.0 668.9,642.4 669.2,644.9 669.6,647.4 670.0,649.9 670.4,652.3 670.7,654.8 671.1,657.3 671.5,659.7 671.9,662.2 672.3,664.7 672.7,667.1 673.1,669.6 673.5,672.1 673.9,674.5 674.3,677.0 674.7,679.5 675.1,682.0 675.5,684.4 675.9,686.9 676.3,689.3 676.7,691.8 677.2,694.3 677.6,696.7 678.0,699.2 678.4,701.7 678.9,704.1 679.3,706.6 679.7,709.1 680.2,711.5 680.6,714.0 681.1,716.4 681.5,718.9 682.0,721.3 682.4,723.8 682.9,726.3 683.4,728.7 683.8,731.2 684.3,733.6 684.8,736.1 685.2,738.5 685.7,741.0 686.2,743.4 686.7,745.9 687.2,748.4 687.7,750.8 688.2,753.3 688.7,755.7 689.2,758.2 689.7,760.6 690.2,763.0 690.7,765.5 691.2,767.9 691.7,770.4 692.3,772.8 692.8,775.3 693.3,777.7 693.9,780.2 694.4,782.6 694.9,785.0 695.5,787.5 696.0,789.9 696.6,792.4 697.2,794.8 697.7,797.2 698.3,799.7 698.9,802.1 699.4,804.5 700.0,807.0 700.6,809.4 701.2,811.8 701.8,814.3 702.4,816.7 703.0,819.1 703.6,821.5 704.2,824.0 704.8,826.4 705.4,828.8 706.0,831.2 706.6,833.7 707.3,836.1 707.9,838.5 708.5,840.9 709.2,843.3 709.8,845.7 710.5,848.2 711.1,850.6 711.8,853.0 712.4,855.4 713.1,857.8 713.8,860.2 714.4,862.6 715.1,865.0 715.8,867.4 716.5,869.8 717.2,872.2 717.9,874.6 718.6,877.0 719.3,879.4 720.0,881.8 720.7,884.2 721.4,886.6 722.2,889.0 722.9,891.4 723.6,893.8 724.4,896.2 725.1,898.6 725.9,901.0 726.6,903.3 727.4,905.7 728.1,908.1 728.9,910.5 729.7,912.9 730.4,915.2 731.2,917.6 732.0,920.0 732.8,922.3 733.6,924.7 734.4,927.1 735.2,929.5 736.0,931.8 736.9,934.2 737.7,936.5 738.5,938.9 739.3,941.3 740.2,943.6 741.0,946.0 741.9,948.3 742.7,950.7 743.6,953.0 744.5,955.3 745.4,957.7 746.3,960.0 747.2,962.4 748.1,964.7 749.0,967.0 749.9,969.3 750.8,971.7 751.7,974.0 752.7,976.3 753.6,978.6 754.6,980.9 755.5,983.2 756.5,985.5 757.5,987.8 758.5,990.1 759.5,992.4 760.5,994.7 761.5,997.0 762.5,999.3 763.5,1001.6 764.6,1003.8 765.6,1006.1 766.7,1008.4 767.7,1010.6 768.8,1012.9 769.9,1015.1 771.0,1017.4 772.1,1019.6 773.2,1021.9 774.4,1024.1 775.5,1026.3 776.6,1028.5 777.8,1030.8 779.0,1033.0 780.1,1035.2 781.3,1037.4 782.5,1039.6 783.7,1041.8 785.0,1043.9 786.2,1046.1 787.4,1048.3 788.7,1050.4 790.0,1052.6 791.2,1054.7 792.5,1056.9 793.8,1059.0 795.2,1061.1 796.5,1063.3 797.8,1065.4 799.2,1067.5 800.5,1069.6 801.9,1071.7 803.3,1073.7 804.7,1075.8 806.1,1077.9 807.5,1079.9 809.0,1082.0 810.4,1084.0 811.9,1086.0 813.4,1088.1 814.9,1090.1 816.4,1092.1 817.9,1094.0 819.4,1096.0 820.9,1098.0 822.5,1099.9 824.1,1101.9 825.6,1103.8 827.2,1105.8 828.9,1107.7 830.5,1109.6 832.1,1111.5 833.8,1113.3 835.4,1115.2 837.1,1117.1 838.8,1118.9 840.5,1120.7 842.2,1122.6 843.9,1124.4 845.7,1126.1 847.4,1127.9 849.2,1129.7 851.0,1131.4 852.8,1133.2 854.6,1134.9 856.5,1136.6 858.3,1138.2 860.2,1139.9 862.1,1141.5 864.0,1143.2 865.9,1144.8 867.8,1146.3 869.8,1147.9 871.8,1149.4 873.8,1151.0 875.8,1152.4 877.8,1153.9 879.8,1155.4 881.9,1156.8 884.0,1158.2 886.1,1159.5 888.2,1160.8 890.3,1162.1 892.5,1163.4 894.6,1164.7 896.8,1165.9 899.0,1167.0 901.3,1168.2 903.5,1169.3 905.8,1170.4 908.0,1171.4 910.3,1172.4 912.7,1173.3 915.0,1174.3 917.3,1175.1 919.7,1176.0 922.0,1176.8 924.4,1177.6 926.8,1178.3 929.2,1179.1 931.6,1179.7 934.0,1180.4 936.4,1181.0 938.8,1181.6 941.3,1182.2 943.7,1182.7 946.2,1183.2 948.6,1183.7 951.1,1184.2 953.5,1184.7 956.0,1185.1 958.5,1185.5 960.9,1185.9 963.4,1186.2 965.9,1186.6 968.4,1186.9 970.8,1187.2 973.3,1187.5 975.8,1187.8 978.3,1188.1 980.8,1188.3 983.3,1188.6 985.8,1188.8 988.3,1189.0 990.7,1189.2 993.2,1189.4 995.7,1189.6 998.2,1189.8 1000.7,1190.0 1003.2,1190.2 1005.7,1190.3 1008.2,1190.5 1010.7,1190.6 1013.2,1190.8 1015.7,1191.0 1018.2,1191.1 1020.7,1191.3 1023.2,1191.4 1025.7,1191.6 1028.2,1191.7 1030.7,1191.9 1033.1,1192.0 1035.6,1192.2 1038.1,1192.4 1040.6,1192.6 1043.1,1192.7 1045.6,1192.9 1048.1,1193.1 1050.6,1193.3 1053.1,1193.5 1055.6,1193.7 1058.1,1194.0 1060.6,1194.2 1063.0,1194.5 1065.5,1194.8 1068.0,1195.0 1070.5,1195.3 1073.0,1195.6 1075.5,1196.0 1077.9,1196.3 1080.4,1196.7 1082.9,1197.1 1085.3,1197.5 1087.8,1197.9 1090.3,1198.3 1092.7,1198.8 1095.2,1199.2 1097.6,1199.7 1100.1,1200.2 1102.5,1200.8 1105.0,1201.3 1107.4,1201.9 1109.8,1202.5 1112.3,1203.1 1114.7,1203.7 1117.1,1204.4 1119.5,1205.1 1121.9,1205.8 1124.3,1206.5 1126.7,1207.2 1129.0,1208.0 1131.4,1208.8 1133.8,1209.6 1136.1,1210.5 1138.5,1211.3 1140.8,1212.2 1143.1,1213.1 1145.5,1214.0 1147.8,1215.0 1150.1,1216.0 1152.4,1217.0 1154.6,1218.0 1156.9,1219.1 1159.2,1220.1 1161.4,1221.2 1163.7,1222.3 1165.9,1223.4 1168.1,1224.6 1170.3,1225.7 1172.6,1226.9 1174.8,1228.1 1176.9,1229.3 1179.1,1230.5 1181.3,1231.8 1183.5,1233.0 1185.6,1234.3 1187.8,1235.5 1189.9,1236.8 1192.1,1238.1 1194.2,1239.4 1196.3,1240.8 1198.4,1242.1 1200.5,1243.4 1202.6,1244.8 1204.7,1246.1 1206.8,1247.5 1208.9,1248.9 1211.0,1250.2 1213.1,1251.6 1215.2,1253.0 1217.3,1254.4 1219.3,1255.8 1221.4,1257.2 1223.5,1258.6 1225.5,1260.0 1227.6,1261.4 1229.6,1262.9 1231.7,1264.3 1233.8,1265.7 1235.8,1267.1 1237.9,1268.6 1239.9,1270.0 1242.0,1271.4 1244.0,1272.8 1246.1,1274.3 1248.1,1275.7 1250.2,1277.1 1252.2,1278.5 1254.3,1280.0 1256.4,1281.4 1258.4,1282.8 1260.5,1284.2 1262.5,1285.6 1264.6,1287.0 1266.7,1288.4 1268.8,1289.8 1270.8,1291.2 1272.9,1292.6 1275.0,1294.0 1277.1,1295.3 1279.2,1296.7 1281.3,1298.0 1283.4,1299.4 1285.5,1300.7 1287.6,1302.1 1289.7,1303.4 1291.9,1304.7 1294.0,1306.0 1296.1,1307.3 1298.3,1308.6 1300.4,1309.9 1302.6,1311.2 1304.7,1312.4 1306.9,1313.7 1309.0,1315.0 1311.2,1316.2 1313.4,1317.4 1315.6,1318.7 1317.7,1319.9 1319.9,1321.1 1322.1,1322.3 1324.3,1323.5 1326.5,1324.7 1328.7,1325.9 1330.9,1327.1 1333.1,1328.3 1335.3,1329.5 1337.5,1330.6 1339.7,1331.8 1342.0,1332.9 1344.2,1334.1 1346.4,1335.2 1348.6,1336.3 1350.9,1337.5 1353.1,1338.6 1355.3,1339.7 1357.6,1340.8 1359.8,1341.9 1362.1,1343.0 1364.3,1344.1 1366.6,1345.2 1368.8,1346.3 1371.1,1347.4 1373.3,1348.4 1375.6,1349.5 1377.9,1350.6 1380.1,1351.6 1382.4,1352.7 1384.7,1353.7 1386.9,1354.8 1389.2,1355.8 1391.5,1356.8 1393.8,1357.9 1396.0,1358.9 1398.3,1359.9 1400.6,1360.9 1402.9,1361.9 1405.2,1362.9 1407.5,1363.9 1409.8,1364.9 1412.1,1365.9 1414.4,1366.9 1416.7,1367.9 1419.0,1368.9 1421.3,1369.9 1423.6,1370.8 1425.9,1371.8 1428.2,1372.8 1430.5,1373.7 1432.8,1374.7 1435.1,1375.7 1437.4,1376.6 1439.7,1377.6 1442.0,1378.5 1444.3,1379.5 1446.6,1380.4 1449.0,1381.4 1451.3,1382.3 1453.6,1383.2 1455.9,1384.2 1458.2,1385.1 1460.6,1386.0 1462.9,1386.9 1465.2,1387.9 1467.5,1388.8 1469.9,1389.7 1472.2,1390.6 1474.5,1391.5 1476.8,1392.5 1479.2,1393.4 1481.5,1394.3 1483.8,1395.2 1486.1,1396.1 1488.5,1397.0 1490.8,1397.9 1493.1,1398.8 1495.5,1399.7 1497.8,1400.6 1500.1,1401.5 1502.5,1402.4 1504.8,1403.3 1507.1,1404.2 1509.5,1405.1 1511.8,1406.0 1514.2,1406.9 1516.5,1407.7 1518.8,1408.6 1521.2,1409.5 1523.5,1410.4 1525.9,1411.2 1528.2,1412.1 1530.6,1412.9 1532.9,1413.8 1535.3,1414.6 1537.6,1415.5 1540.0,1416.3 1542.3,1417.1 1544.7,1417.9 1547.1,1418.7 1549.4,1419.5 1551.8,1420.3 1554.2,1421.1 1556.6,1421.9 1559.0,1422.6 1561.3,1423.4 1563.7,1424.1 1566.1,1424.8 1568.5,1425.6 1570.9,1426.3 1573.3,1427.0 1575.7,1427.7 1578.1,1428.3 1580.5,1429.0 1582.9,1429.7 1585.3,1430.3 1587.8,1431.0 1590.2,1431.6 1592.6,1432.2 1595.0,1432.9 1597.4,1433.5 1599.9,1434.1 1602.3,1434.7 1604.7,1435.3 1607.2,1435.8 1609.6,1436.4 1612.0,1437.0 1614.5,1437.6 1616.9,1438.1 1619.3,1438.7 1621.8,1439.2 1624.2,1439.7 1626.7,1440.3 1629.1,1440.8 1631.6,1441.3 1634.0,1441.8 1636.5,1442.3 1638.9,1442.8 1641.4,1443.3 1643.8,1443.8 1646.3,1444.2 1648.7,1444.7 1651.2,1445.2 1653.6,1445.6 1656.1,1446.1 1658.5,1446.6 1661.0,1447.0 1663.5,1447.5 1665.9,1447.9 1668.4,1448.3 1670.9,1448.8 1673.3,1449.2 1675.8,1449.6 1678.2,1450.0 1680.7,1450.4 1683.2,1450.8 1685.6,1451.2 1688.1,1451.6 1690.6,1452.0 1693.1,1452.4 1695.5,1452.8 1698.0,1453.2 1700.5,1453.6 1702.9,1454.0 1705.4,1454.3 1707.9,1454.7 1710.4,1455.1 1712.8,1455.4 1715.3,1455.8 1717.8,1456.1 1720.3,1456.5 1722.7,1456.8 1725.2,1457.2 1727.7,1457.5 1730.2,1457.8 1732.6,1458.2 1735.1,1458.5 1737.6,1458.8 1740.1,1459.1 1742.6,1459.4 1745.0,1459.7 1747.5,1460.1 1750.0,1460.4 1752.5,1460.7 1755.0,1461.0 1757.4,1461.2 1759.9,1461.5 1762.4,1461.8 1764.9,1462.1 1767.4,1462.4 1769.9,1462.7 1772.4,1462.9 1774.8,1463.2 1777.3,1463.5 1779.8,1463.7 1782.3,1464.0 1784.8,1464.2 1787.3,1464.5 1789.8,1464.8 1792.2,1465.0 1794.7,1465.2 1797.2,1465.5 1799.7,1465.7 1802.2,1466.0 1804.7,1466.2 1807.2,1466.4 1809.7,1466.6 1812.2,1466.9 1814.6,1467.1 1817.1,1467.3 1819.6,1467.5 1822.1,1467.7 1824.6,1467.9 1827.1,1468.2 1829.6,1468.4 1832.1,1468.6 1834.6,1468.8 1837.1,1469.0 1839.6,1469.1 1842.1,1469.3 1844.5,1469.5 1847.0,1469.7 1849.5,1469.9 1852.0,1470.1 1854.5,1470.3 1857.0,1470.4 1859.5,1470.6 1862.0,1470.8 1864.5,1471.0 1867.0,1471.1 1869.5,1471.3 1872.0,1471.4 1874.5,1471.6 1877.0,1471.8 1879.5,1471.9 1882.0,1472.1 1884.5,1472.2 1887.0,1472.4 1889.4,1472.5 1891.9,1472.7 1894.4,1472.8 1896.9,1473.0 1899.4,1473.1 1901.9,1473.2 1904.4,1473.4 1906.9,1473.5 1909.4,1473.7 1911.9,1473.8 1914.4,1473.9 1916.9,1474.0 1919.4,1474.2 1921.9,1474.3 1924.4,1474.4 1926.9,1474.5 1929.4,1474.7 1931.9,1474.8 1934.4,1474.9 1936.9,1475.0 1939.4,1475.1 1941.9,1475.3 1944.4,1475.4 1946.9,1475.5 1949.4,1475.6 1951.9,1475.7 1954.4,1475.8 1956.9,1475.9 1959.4,1476.0 1961.9,1476.1 1964.4,1476.2 1966.9,1476.3 1969.4,1476.4 1971.8,1476.5 1974.3,1476.6 1976.8,1476.7 1979.3,1476.8 1981.8,1476.9 1984.3,1477.0 1986.8,1477.1 1989.3,1477.2 1991.8,1477.3 1994.3,1477.4 1996.8,1477.4 1999.3,1477.5 2001.8,1477.6 2004.3,1477.7 2006.8,1477.8 2009.3,1477.9 2011.8,1478.0 2014.3,1478.1 2016.8,1478.1 2019.3,1478.2 2021.8,1478.3 2024.3,1478.4 2026.8,1478.5 2029.3,1478.6 2031.8,1478.6 2034.3,1478.7 2036.8,1478.8 2039.3,1478.9 2041.8,1479.0 2044.3,1479.0 2046.8,1479.1 2049.3,1479.2 2051.8,1479.3 2054.3,1479.3 2056.8,1479.4 2059.3,1479.5 2061.8,1479.6 2064.3,1479.7 2066.8,1479.7 2069.3,1479.8 2071.8,1479.9 2074.3,1480.0 2076.8,1480.1 2079.3,1480.1 2081.8,1480.2 2084.3,1480.3 2086.8,1480.4 2089.3,1480.4 2091.8,1480.5 2094.3,1480.6 2096.8,1480.7 2099.3,1480.8 2101.8,1480.8 2104.3,1480.9 2106.8,1481.0 2109.3,1481.1 2111.8,1481.2 2114.3,1481.3 2116.8,1481.3 2119.3,1481.4 2121.8,1481.5 2124.3,1481.6 2126.8,1481.7 2129.3,1481.8 2131.8,1481.8 2134.3,1481.9 2136.8,1482.0 2139.3,1482.1 2141.8,1482.2 2144.3,1482.3 2146.8,1482.4 2149.2,1482.5 2151.7,1482.6 2154.2,1482.7 2156.7,1482.8 2159.2,1482.9 2161.7,1483.0 2164.2,1483.0 2166.7,1483.1 2169.2,1483.2 2171.7,1483.4 2174.2,1483.5 2176.7,1483.6 2179.2,1483.7 2181.7,1483.8 2184.2,1483.9 2186.7,1484.0 2189.2,1484.1 2191.7,1484.2 2194.2,1484.3 2196.7,1484.4 2199.2,1484.5 2201.7,1484.7 2204.2,1484.8 2206.7,1484.9 2209.2,1485.0 2211.7,1485.1 2214.2,1485.3 2216.7,1485.4 2219.2,1485.5 2221.7,1485.7 2224.2,1485.8 2226.7,1485.9 2229.2,1486.1 2231.7,1486.2 2234.2,1486.3 2236.7,1486.5 2239.2,1486.6 2241.6,1486.8 2244.1,1486.9 2246.6,1487.1 2249.1,1487.2 2251.6,1487.4 2254.1,1487.5 2256.6,1487.7 2259.1,1487.8 2261.6,1488.0 2264.1,1488.1 2266.6,1488.3 2269.1,1488.5 2271.6,1488.7 2274.1,1488.8 2276.6,1489.0 2279.1,1489.2 2279.9,1489.2" stroke="#ff0000"/>
<path d="M689.8,5.2 690.1,7.7 690.4,10.2 690.8,12.7 691.1,15.1 691.4,17.6 691.7,20.1 692.1,22.6 692.4,25.1 692.7,27.5 693.1,30.0 693.4,32.5 693.7,35.0 694.1,37.4 694.4,39.9 694.7,42.4 695.1,44.9 695.4,47.3 695.8,49.8 696.1,52.3 696.5,54.8 696.8,57.2 697.2,59.7 697.5,62.2 697.9,64.7 698.2,67.2 698.6,69.6 698.9,72.1 699.3,74.6 699.6,77.0 700.0,79.5 700.4,82.0 700.7,84.5 701.1,86.9 701.4,89.4 701.8,91.9 702.2,94.4 702.6,96.8 702.9,99.3 703.3,101.8 703.7,104.3 704.1,106.7 704.4,109.2 704.8,111.7 705.2,114.1 705.6,116.6 706.0,119.1 706.4,121.5 706.7,124.0 707.1,126.5 707.5,129.0 707.9,131.4 708.3,133.9 708.7,136.4 709.1,138.8 709.5,141.3 709.9,143.8 710.3,146.2 710.7,148.7 711.1,151.2 711.6,153.6 712.0,156.1 712.4,158.6 712.8,161.0 713.2,163.5 713.6,166.0 714.1,168.4 714.5,170.9 714.9,173.3 715.3,175.8 715.8,178.3 716.2,180.7 716.7,183.2 717.1,185.7 717.5,188.1 718.0,190.6 718.4,193.0 718.9,195.5 719.3,198.0 719.8,200.4 720.2,202.9 720.7,205.3 721.1,207.8 721.6,210.2 722.1,212.7 722.5,215.2 723.0,217.6 723.5,220.1 723.9,222.5 724.4,225.0 724.9,227.4 725.4,229.9 725.9,232.3 726.3,234.8 726.8,237.2 727.3,239.7 727.8,242.1 728.3,244.6 728.8,247.0 729.3,249.5 729.8,251.9 730.3,254.4 730.8,256.8 731.3,259.3 731.9,261.7 732.4,264.2 732.9,266.6 733.4,269.1 733.9,271.5 734.5,274.0 735.0,276.4 735.5,278.8 736.1,281.3 736.6,283.7 737.1,286.2 737.7,288.6 738.2,291.0 738.8,293.5 739.3,295.9 739.9,298.4 740.5,300.8 741.0,303.2 741.6,305.7 742.1,308.1 742.7,310.5 743.3,313.0 743.9,315.4 744.4,317.8 745.0,320.3 745.6,322.7 746.2,325.1 746.8,327.5 747.4,330.0 748.0,332.4 748.6,334.8 749.2,337.3 749.8,339.7 750.4,342.1 751.0,344.5 751.7,347.0 752.3,349.4 752.9,351.8 753.5,354.2 754.2,356.6 754.8,359.1 755.4,361.5 756.1,363.9 756.7,366.3 757.4,368.7 758.0,371.1 758.7,373.5 759.3,376.0 760.0,378.4 760.6,380.8 761.3,383.2 762.0,385.6 762.7,388.0 763.3,390.4 764.0,392.8 764.7,395.2 765.4,397.6 766.1,400.0 766.8,402.4 767.5,404.8 768.2,407.2 768.9,409.6 769.6,412.0 770.3,414.4 771.0,416.8 771.8,419.2 772.5,421.6 773.2,424.0 774.0,426.4 774.7,428.8 775.4,431.1 776.2,433.5 776.9,435.9 777.7,438.3 778.4,440.7 779.2,443.1 780.0,445.5 780.7,447.8 781.5,450.2 782.3,452.6 783.0,455.0 783.8,457.3 784.6,459.7 785.4,462.1 786.2,464.4 787.0,466.8 787.8,469.2 788.6,471.6 789.4,473.9 790.2,476.3 791.1,478.6 791.9,481.0 792.7,483.4 793.5,485.7 794.4,488.1 795.2,490.4 796.1,492.8 796.9,495.1 797.8,497.5 798.6,499.8 799.5,502.2 800.3,504.5 801.2,506.9 802.1,509.2 803.0,511.6 803.8,513.9 804.7,516.2 805.6,518.6 806.5,520.9 807.4,523.2 808.3,525.6 809.2,527.9 810.1,530.2 811.1,532.5 812.0,534.9 812.9,537.2 813.8,539.5 814.8,541.8 815.7,544.1 816.7,546.5 817.6,548.8 818.5,551.1 819.5,553.4 820.5,555.7 821.4,558.0 822.4,560.3 823.4,562.6 824.4,564.9 825.3,567.2 826.3,569.5 827.3,571.8 828.3,574.1 829.3,576.4 830.3,578.7 831.3,581.0 832.3,583.3 833.4,585.5 834.4,587.8 835.4,590.1 836.5,592.4 837.5,594.6 838.5,596.9 839.6,599.2 840.6,601.5 841.7,603.7 842.8,606.0 843.8,608.2 844.9,610.5 846.0,612.8 847.1,615.0 848.1,617.3 849.2,619.5 850.3,621.8 851.4,624.0 852.5,626.3 853.6,628.5 854.8,630.7 855.9,633.0 857.0,635.2 858.1,637.4 859.3,639.7 860.4,641.9 861.5,644.1 862.7,646.3 863.9,648.5 865.0,650.7 866.2,652.9 867.4,655.1 868.6,657.3 869.8,659.5 871.1,661.7 872.3,663.9 873.6,666.0 874.8,668.2 876.1,670.3 877.4,672.4 878.8,674.6 880.1,676.7 881.5,678.8 882.8,680.9 884.2,682.9 885.7,685.0 887.1,687.0 888.6,689.0 890.1,691.1 891.6,693.0 893.1,695.0 894.7,697.0 896.3,698.9 897.9,700.8 899.6,702.7 901.2,704.5 902.9,706.3 904.7,708.2 906.4,709.9 908.2,711.7 910.0,713.4 911.9,715.1 913.8,716.7 915.7,718.4 917.6,720.0 919.5,721.5 921.5,723.1 923.5,724.6 925.5,726.1 927.5,727.5 929.6,729.0 931.6,730.4 933.7,731.7 935.8,733.1 937.9,734.4 940.1,735.7 942.2,737.0 944.4,738.3 946.5,739.5 948.7,740.8 950.9,742.0 953.1,743.1 955.3,744.3 957.6,745.4 959.8,746.5 962.0,747.6 964.3,748.7 966.6,749.8 968.8,750.8 971.1,751.9 973.4,752.9 975.7,753.9 978.0,754.9 980.3,755.9 982.6,756.8 984.9,757.8 987.2,758.7 989.5,759.6 991.9,760.6 994.2,761.5 996.5,762.4 998.9,763.2 1001.2,764.1 1003.5,765.0 1005.9,765.8 1008.2,766.7 1010.6,767.5 1013.0,768.4 1015.3,769.2 1017.7,770.1 1020.0,770.9 1022.4,771.7 1024.7,772.6 1027.1,773.4 1029.4,774.3 1031.8,775.1 1034.1,776.0 1036.5,776.9 1038.8,777.8 1041.1,778.7 1043.5,779.6 1045.8,780.5 1048.1,781.4 1050.4,782.4 1052.7,783.3 1055.0,784.3 1057.3,785.3 1059.6,786.3 1061.9,787.4 1064.1,788.4 1066.4,789.5 1068.6,790.6 1070.9,791.7 1073.1,792.8 1075.3,794.0 1077.6,795.1 1079.8,796.3 1082.0,797.5 1084.1,798.7 1086.3,800.0 1088.5,801.2 1090.6,802.5 1092.8,803.8 1094.9,805.1 1097.0,806.4 1099.1,807.7 1101.2,809.1 1103.3,810.5 1105.4,811.9 1107.5,813.3 1109.5,814.7 1111.5,816.2 1113.6,817.6 1115.6,819.1 1117.6,820.6 1119.6,822.2 1121.5,823.7 1123.5,825.3 1125.4,826.8 1127.3,828.4 1129.2,830.0 1131.1,831.7 1133.0,833.3 1134.9,835.0 1136.7,836.7 1138.6,838.4 1140.4,840.1 1142.2,841.9 1143.9,843.6 1145.7,845.4 1147.4,847.2 1149.2,849.0 1150.9,850.8 1152.5,852.7 1154.2,854.5 1155.9,856.4 1157.5,858.3 1159.1,860.2 1160.7,862.2 1162.3,864.1 1163.8,866.1 1165.3,868.0 1166.8,870.0 1168.3,872.0 1169.8,874.1 1171.3,876.1 1172.7,878.1 1174.1,880.2 1175.5,882.3 1176.9,884.3 1178.3,886.4 1179.7,888.5 1181.0,890.6 1182.3,892.7 1183.7,894.9 1185.0,897.0 1186.3,899.1 1187.5,901.3 1188.8,903.4 1190.1,905.6 1191.3,907.8 1192.5,909.9 1193.8,912.1 1195.0,914.3 1196.2,916.5 1197.4,918.7 1198.6,920.9 1199.8,923.1 1200.9,925.3 1202.1,927.5 1203.3,929.7 1204.4,931.9 1205.6,934.2 1206.7,936.4 1207.9,938.6 1209.0,940.8 1210.1,943.1 1211.3,945.3 1212.4,947.5 1213.5,949.7 1214.6,952.0 1215.8,954.2 1216.9,956.4 1218.0,958.7 1219.1,960.9 1220.3,963.1 1221.4,965.4 1222.5,967.6 1223.7,969.8 1224.8,972.1 1225.9,974.3 1227.1,976.5 1228.2,978.7 1229.4,981.0 1230.5,983.2 1231.7,985.4 1232.8,987.6 1234.0,989.8 1235.2,992.0 1236.4,994.2 1237.6,996.4 1238.8,998.6 1240.0,1000.8 1241.2,1003.0 1242.4,1005.2 1243.6,1007.3 1244.9,1009.5 1246.2,1011.7 1247.4,1013.8 1248.7,1016.0 1250.0,1018.1 1251.3,1020.2 1252.6,1022.4 1254.0,1024.5 1255.3,1026.6 1256.7,1028.7 1258.0,1030.8 1259.4,1032.8 1260.8,1034.9 1262.3,1037.0 1263.7,1039.0 1265.2,1041.0 1266.6,1043.1 1268.1,1045.1 1269.6,1047.1 1271.1,1049.0 1272.7,1051.0 1274.2,1053.0 1275.8,1054.9 1277.4,1056.9 1278.9,1058.8 1280.5,1060.7 1282.1,1062.7 1283.8,1064.6 1285.4,1066.5 1287.0,1068.3 1288.7,1070.2 1290.3,1072.1 1292.0,1074.0 1293.7,1075.8 1295.4,1077.7 1297.1,1079.5 1298.8,1081.3 1300.5,1083.2 1302.2,1085.0 1303.9,1086.8 1305.6,1088.6 1307.4,1090.4 1309.1,1092.2 1310.8,1094.0 1312.6,1095.8 1314.3,1097.6 1316.1,1099.3 1317.8,1101.1 1319.6,1102.9 1321.4,1104.7 1323.1,1106.4 1324.9,1108.2 1326.7,1110.0 1328.4,1111.7 1330.2,1113.5 1332.0,1115.3 1333.8,1117.0 1335.5,1118.8 1337.3,1120.6 1339.1,1122.3 1340.8,1124.1 1342.6,1125.9 1344.4,1127.6 1346.1,1129.4 1347.9,1131.2 1349.7,1133.0 1351.4,1134.7 1353.2,1136.5 1354.9,1138.3 1356.7,1140.0 1358.5,1141.8 1360.2,1143.6 1362.0,1145.4 1363.7,1147.2 1365.5,1148.9 1367.3,1150.7 1369.0,1152.5 1370.8,1154.3 1372.5,1156.0 1374.3,1157.8 1376.0,1159.6 1377.8,1161.4 1379.5,1163.2 1381.3,1165.0 1383.1,1166.7 1384.8,1168.5 1386.6,1170.3 1388.3,1172.1 1390.1,1173.9 1391.8,1175.7 1393.6,1177.4 1395.3,1179.2 1397.1,1181.0 1398.8,1182.8 1400.6,1184.6 1402.3,1186.4 1404.1,1188.1 1405.8,1189.9 1407.6,1191.7 1409.3,1193.5 1411.1,1195.3 1412.8,1197.0 1414.6,1198.8 1416.3,1200.6 1418.1,1202.4 1419.9,1204.2 1421.6,1206.0 1423.4,1207.7 1425.1,1209.5 1426.9,1211.3 1428.6,1213.1 1430.4,1214.8 1432.2,1216.6 1433.9,1218.4 1435.7,1220.2 1437.4,1221.9 1439.2,1223.7 1441.0,1225.5 1442.7,1227.3 1444.5,1229.0 1446.3,1230.8 1448.0,1232.6 1449.8,1234.3 1451.6,1236.1 1453.3,1237.9 1455.1,1239.6 1456.9,1241.4 1458.6,1243.2 1460.4,1244.9 1462.2,1246.7 1464.0,1248.4 1465.8,1250.2 1467.5,1252.0 1469.3,1253.7 1471.1,1255.5 1472.9,1257.2 1474.7,1259.0 1476.5,1260.7 1478.3,1262.4 1480.0,1264.2 1481.8,1265.9 1483.6,1267.7 1485.4,1269.4 1487.2,1271.1 1489.0,1272.9 1490.8,1274.6 1492.6,1276.3 1494.4,1278.1 1496.3,1279.8 1498.1,1281.5 1499.9,1283.2 1501.7,1285.0 1503.5,1286.7 1505.3,1288.4 1507.1,1290.1 1509.0,1291.8 1510.8,1293.5 1512.6,1295.2 1514.5,1296.9 1516.3,1298.6 1518.1,1300.3 1520.0,1302.0 1521.8,1303.7 1523.6,1305.4 1525.5,1307.1 1527.3,1308.8 1529.2,1310.4 1531.1,1312.1 1532.9,1313.8 1534.8,1315.5 1536.6,1317.1 1538.5,1318.8 1540.4,1320.4 1542.3,1322.1 1544.1,1323.7 1546.0,1325.4 1547.9,1327.0 1549.8,1328.6 1551.7,1330.3 1553.6,1331.9 1555.5,1333.5 1557.4,1335.1 1559.4,1336.7 1561.3,1338.3 1563.2,1339.9 1565.1,1341.5 1567.1,1343.1 1569.0,1344.7 1571.0,1346.2 1572.9,1347.8 1574.9,1349.4 1576.8,1350.9 1578.8,1352.5 1580.8,1354.0 1582.7,1355.5 1584.7,1357.0 1586.7,1358.6 1588.7,1360.1 1590.7,1361.6 1592.7,1363.1 1594.7,1364.6 1596.7,1366.0 1598.7,1367.5 1600.8,1369.0 1602.8,1370.4 1604.8,1371.9 1606.9,1373.3 1608.9,1374.7 1611.0,1376.1 1613.1,1377.6 1615.1,1379.0 1617.2,1380.3 1619.3,1381.7 1621.4,1383.1 1623.5,1384.5 1625.6,1385.8 1627.7,1387.1 1629.8,1388.5 1631.9,1389.8 1634.1,1391.1 1636.2,1392.4 1638.4,1393.7 1640.5,1395.0 1642.7,1396.2 1644.8,1397.5 1647.0,1398.7 1649.2,1399.9 1651.4,1401.2 1653.6,1402.4 1655.8,1403.6 1658.0,1404.7 1660.2,1405.9 1662.4,1407.1 1664.6,1408.2 1666.8,1409.3 1669.1,1410.4 1671.3,1411.5 1673.6,1412.6 1675.8,1413.7 1678.1,1414.7 1680.4,1415.8 1682.7,1416.8 1684.9,1417.8 1687.2,1418.8 1689.5,1419.8 1691.8,1420.8 1694.1,1421.7 1696.5,1422.7 1698.8,1423.6 1701.1,1424.5 1703.5,1425.4 1705.8,1426.3 1708.1,1427.1 1710.5,1428.0 1712.9,1428.8 1715.2,1429.6 1717.6,1430.4 1720.0,1431.2 1722.3,1431.9 1724.7,1432.7 1727.1,1433.4 1729.5,1434.1 1731.9,1434.8 1734.3,1435.5 1736.7,1436.2 1739.1,1436.9 1741.6,1437.5 1744.0,1438.2 1746.4,1438.8 1748.8,1439.4 1751.2,1440.0 1753.7,1440.6 1756.1,1441.1 1758.5,1441.7 1761.0,1442.2 1763.4,1442.8 1765.9,1443.3 1768.3,1443.8 1770.8,1444.3 1773.2,1444.8 1775.7,1445.3 1778.1,1445.7 1780.6,1446.2 1783.0,1446.6 1785.5,1447.1 1788.0,1447.5 1790.4,1447.9 1792.9,1448.3 1795.4,1448.7 1797.8,1449.1 1800.3,1449.5 1802.8,1449.9 1805.3,1450.3 1807.7,1450.6 1810.2,1451.0 1812.7,1451.3 1815.2,1451.7 1817.6,1452.0 1820.1,1452.3 1822.6,1452.7 1825.1,1453.0 1827.6,1453.3 1830.0,1453.6 1832.5,1453.9 1835.0,1454.2 1837.5,1454.5 1840.0,1454.7 1842.5,1455.0 1844.9,1455.3 1847.4,1455.6 1849.9,1455.8 1852.4,1456.1 1854.9,1456.3 1857.4,1456.6 1859.9,1456.8 1862.3,1457.1 1864.8,1457.3 1867.3,1457.6 1869.8,1457.8 1872.3,1458.1 1874.8,1458.3 1877.3,1458.5 1879.8,1458.8 1882.3,1459.0 1884.7,1459.2 1887.2,1459.5 1889.7,1459.7 1892.2,1459.9 1894.7,1460.2 1897.2,1460.4 1899.7,1460.6 1902.2,1460.9 1904.7,1461.1 1907.1,1461.3 1909.6,1461.6 1912.1,1461.8 1914.6,1462.0 1917.1,1462.3 1919.6,1462.5 1922.1,1462.7 1924.6,1463.0 1927.1,1463.2 1929.5,1463.5 1932.0,1463.7 1934.5,1463.9 1937.0,1464.2 1939.5,1464.4 1942.0,1464.6 1944.5,1464.9 1947.0,1465.1 1949.5,1465.4 1951.9,1465.6 1954.4,1465.8 1956.9,1466.1 1959.4,1466.3 1961.9,1466.6 1964.4,1466.8 1966.9,1467.0 1969.4,1467.3 1971.8,1467.5 1974.3,1467.7 1976.8,1468.0 1979.3,1468.2 1981.8,1468.5 1984.3,1468.7 1986.8,1468.9 1989.3,1469.2 1991.8,1469.4 1994.2,1469.6 1996.7,1469.9 1999.2,1470.1 2001.7,1470.3 2004.2,1470.6 2006.7,1470.8 2009.2,1471.0 2011.7,1471.2 2014.2,1471.5 2016.7,1471.7 2019.1,1471.9 2021.6,1472.2 2024.1,1472.4 2026.6,1472.6 2029.1,1472.8 2031.6,1473.0 2034.1,1473.3 2036.6,1473.5 2039.1,1473.7 2041.6,1473.9 2044.0,1474.1 2046.5,1474.4 2049.0,1474.6 2051.5,1474.8 2054.0,1475.0 2056.5,1475.2 2059.0,1475.4 2061.5,1475.6 2064.0,1475.8 2066.5,1476.0 2069.0,1476.2 2071.4,1476.4 2073.9,1476.6 2076.4,1476.8 2078.9,1477.0 2081.4,1477.2 2083.9,1477.4 2086.4,1477.6 2088.9,1477.8 2091.4,1478.0 2093.9,1478.2 2096.4,1478.3 2098.9,1478.5 2101.4,1478.7 2103.9,1478.9 2106.3,1479.1 2108.8,1479.2 2111.3,1479.4 2113.8,1479.6 2116.3,1479.7 2118.8,1479.9 2121.3,1480.1 2123.8,1480.2 2126.3,1480.4 2128.8,1480.5 2131.3,1480.7 2133.8,1480.8 2136.3,1481.0 2138.8,1481.1 2141.3,1481.3 2143.8,1481.4 2146.3,1481.6 2148.8,1481.7 2151.3,1481.8 2153.8,1482.0 2156.3,1482.1 2158.8,1482.2 2161.3,1482.3 2163.7,1482.5 2166.2,1482.6 2168.7,1482.7 2171.2,1482.8 2173.7,1482.9 2176.2,1483.0 2178.7,1483.1 2181.2,1483.2 2183.7,1483.3 2186.2,1483.4 2188.7,1483.5 2191.2,1483.6 2193.7,1483.7 2196.2,1483.8 2198.7,1483.8 2201.2,1483.9 2203.7,1484.0 2206.2,1484.1 2208.7,1484.1 2211.2,1484.2 2213.7,1484.2 2216.2,1484.3 2218.7,1484.3 2221.2,1484.4 2223.7,1484.4 2226.2,1484.5 2228.7,1484.5 2231.2,1484.6 2233.7,1484.6 2236.2,1484.6 2238.7,1484.6 2241.2,1484.7 2243.7,1484.7 2246.2,1484.7 2248.7,1484.7 2251.2,1484.7 2253.7,1484.7 2256.2,1484.7 2258.7,1484.7 2261.2,1484.7 2263.7,1484.7 2266.2,1484.7 2268.7,1484.6 2271.2,1484.6 2273.7,1484.6 2276.2,1484.5 2278.7,1484.5 2280.0,1484.5" stroke="#008700"/>
<path d="M806.4,5.3 806.9,7.7 807.3,10.2 807.8,12.6 808.2,15.1 808.7,17.6 809.1,20.0 809.6,22.5 810.1,24.9 810.5,27.4 811.0,29.8 811.5,32.3 811.9,34.8 812.4,37.2 812.9,39.7 813.4,42.1 813.8,44.6 814.3,47.0 814.8,49.5 815.3,51.9 815.8,54.4 816.3,56.8 816.8,59.3 817.3,61.7 817.8,64.2 818.3,66.6 818.8,69.1 819.3,71.5 819.8,74.0 820.3,76.4 820.8,78.9 821.3,81.3 821.8,83.8 822.4,86.2 822.9,88.7 823.4,91.1 824.0,93.5 824.5,96.0 825.0,98.4 825.6,100.9 826.1,103.3 826.7,105.7 827.2,108.2 827.8,110.6 828.3,113.1 828.9,115.5 829.5,117.9 830.0,120.4 830.6,122.8 831.2,125.2 831.7,127.7 832.3,130.1 832.9,132.5 833.5,135.0 834.1,137.4 834.7,139.8 835.3,142.2 835.9,144.7 836.5,147.1 837.1,149.5 837.7,151.9 838.3,154.4 839.0,156.8 839.6,159.2 840.2,161.6 840.8,164.0 841.5,166.5 842.1,168.9 842.8,171.3 843.4,173.7 844.1,176.1 844.7,178.5 845.4,180.9 846.1,183.3 846.7,185.8 847.4,188.2 848.1,190.6 848.8,193.0 849.5,195.4 850.2,197.8 850.9,200.2 851.6,202.6 852.3,205.0 853.0,207.4 853.7,209.8 854.4,212.2 855.1,214.6 855.9,216.9 856.6,219.3 857.3,221.7 858.1,224.1 858.8,226.5 859.6,228.9 860.3,231.3 861.1,233.6 861.9,236.0 862.6,238.4 863.4,240.8 864.2,243.1 865.0,245.5 865.8,247.9 866.6,250.3 867.4,252.6 868.2,255.0 869.0,257.4 869.8,259.7 870.6,262.1 871.5,264.4 872.3,266.8 873.2,269.2 874.0,271.5 874.9,273.9 875.7,276.2 876.6,278.5 877.4,280.9 878.3,283.2 879.2,285.6 880.1,287.9 881.0,290.2 881.9,292.6 882.8,294.9 883.7,297.2 884.6,299.6 885.5,301.9 886.4,304.2 887.4,306.5 888.3,308.9 889.2,311.2 890.2,313.5 891.2,315.8 892.1,318.1 893.1,320.4 894.1,322.7 895.0,325.0 896.0,327.3 897.0,329.6 898.0,331.9 899.0,334.2 900.0,336.5 901.0,338.7 902.1,341.0 903.1,343.3 904.1,345.6 905.2,347.9 906.2,350.1 907.3,352.4 908.4,354.7 909.4,356.9 910.5,359.2 911.6,361.4 912.7,363.7 913.8,365.9 914.9,368.2 916.0,370.4 917.1,372.6 918.2,374.9 919.3,377.1 920.5,379.3 921.6,381.6 922.8,383.8 923.9,386.0 925.1,388.2 926.2,390.4 927.4,392.6 928.6,394.8 929.8,397.0 931.0,399.2 932.2,401.4 933.4,403.6 934.6,405.8 935.8,408.0 937.1,410.1 938.3,412.3 939.5,414.5 940.8,416.7 942.1,418.8 943.3,421.0 944.6,423.1 945.9,425.3 947.1,427.4 948.4,429.6 949.7,431.7 951.0,433.8 952.3,436.0 953.7,438.1 955.0,440.2 956.3,442.3 957.7,444.4 959.0,446.5 960.4,448.6 961.7,450.7 963.1,452.8 964.5,454.9 965.8,457.0 967.2,459.1 968.6,461.2 970.0,463.2 971.4,465.3 972.8,467.4 974.3,469.4 975.7,471.5 977.1,473.5 978.6,475.6 980.0,477.6 981.5,479.6 982.9,481.7 984.4,483.7 985.9,485.7 987.4,487.7 988.9,489.7 990.4,491.7 991.9,493.7 993.4,495.7 994.9,497.7 996.4,499.7 998.0,501.6 999.5,503.6 1001.0,505.6 1002.6,507.5 1004.2,509.5 1005.7,511.4 1007.3,513.4 1008.9,515.3 1010.5,517.2 1012.1,519.2 1013.7,521.1 1015.3,523.0 1016.9,524.9 1018.5,526.8 1020.2,528.7 1021.8,530.6 1023.4,532.5 1025.1,534.4 1026.7,536.2 1028.4,538.1 1030.1,540.0 1031.7,541.8 1033.4,543.7 1035.1,545.5 1036.8,547.4 1038.4,549.2 1040.1,551.1 1041.8,552.9 1043.5,554.7 1045.2,556.6 1046.9,558.4 1048.6,560.2 1050.3,562.1 1052.1,563.9 1053.8,565.7 1055.5,567.5 1057.2,569.3 1058.9,571.1 1060.7,572.9 1062.4,574.8 1064.1,576.6 1065.8,578.4 1067.6,580.2 1069.3,582.0 1071.0,583.8 1072.8,585.6 1074.5,587.4 1076.2,589.2 1078.0,591.0 1079.7,592.8 1081.4,594.6 1083.2,596.4 1084.9,598.2 1086.6,600.0 1088.4,601.8 1090.1,603.6 1091.8,605.4 1093.6,607.2 1095.3,609.0 1097.0,610.8 1098.7,612.6 1100.5,614.5 1102.2,616.3 1103.9,618.1 1105.6,619.9 1107.3,621.7 1109.0,623.6 1110.7,625.4 1112.4,627.2 1114.1,629.1 1115.8,630.9 1117.5,632.7 1119.2,634.6 1120.9,636.4 1122.5,638.3 1124.2,640.2 1125.9,642.0 1127.5,643.9 1129.2,645.8 1130.9,647.6 1132.5,649.5 1134.1,651.4 1135.8,653.3 1137.4,655.2 1139.0,657.1 1140.6,659.0 1142.2,660.9 1143.8,662.8 1145.4,664.8 1147.0,666.7 1148.6,668.6 1150.2,670.6 1151.7,672.5 1153.3,674.5 1154.8,676.5 1156.4,678.4 1157.9,680.4 1159.4,682.4 1160.9,684.4 1162.4,686.4 1163.9,688.4 1165.4,690.4 1166.9,692.4 1168.3,694.5 1169.8,696.5 1171.2,698.5 1172.7,700.6 1174.1,702.6 1175.5,704.7 1176.9,706.7 1178.4,708.8 1179.8,710.9 1181.1,713.0 1182.5,715.0 1183.9,717.1 1185.3,719.2 1186.6,721.3 1188.0,723.4 1189.4,725.5 1190.7,727.6 1192.0,729.7 1193.4,731.8 1194.7,734.0 1196.0,736.1 1197.3,738.2 1198.6,740.3 1199.9,742.5 1201.2,744.6 1202.5,746.8 1203.8,748.9 1205.1,751.0 1206.4,753.2 1207.6,755.3 1208.9,757.5 1210.2,759.7 1211.4,761.8 1212.7,764.0 1213.9,766.1 1215.2,768.3 1216.4,770.5 1217.7,772.6 1218.9,774.8 1220.1,777.0 1221.4,779.2 1222.6,781.4 1223.8,783.5 1225.0,785.7 1226.3,787.9 1227.5,790.1 1228.7,792.3 1229.9,794.4 1231.1,796.6 1232.3,798.8 1233.5,801.0 1234.7,803.2 1235.9,805.4 1237.2,807.6 1238.4,809.8 1239.6,812.0 1240.8,814.2 1242.0,816.3 1243.2,818.5 1244.4,820.7 1245.6,822.9 1246.8,825.1 1248.0,827.3 1249.2,829.5 1250.4,831.7 1251.6,833.9 1252.8,836.1 1254.0,838.3 1255.2,840.5 1256.4,842.6 1257.6,844.8 1258.8,847.0 1260.0,849.2 1261.2,851.4 1262.4,853.6 1263.7,855.8 1264.9,858.0 1266.1,860.1 1267.3,862.3 1268.5,864.5 1269.7,866.7 1271.0,868.9 1272.2,871.1 1273.4,873.2 1274.6,875.4 1275.9,877.6 1277.1,879.8 1278.3,881.9 1279.6,884.1 1280.8,886.3 1282.0,888.5 1283.3,890.6 1284.5,892.8 1285.7,895.0 1287.0,897.2 1288.2,899.3 1289.4,901.5 1290.7,903.7 1291.9,905.8 1293.2,908.0 1294.4,910.2 1295.7,912.3 1296.9,914.5 1298.2,916.7 1299.4,918.8 1300.7,921.0 1301.9,923.2 1303.2,925.3 1304.4,927.5 1305.7,929.6 1307.0,931.8 1308.2,934.0 1309.5,936.1 1310.8,938.3 1312.0,940.4 1313.3,942.6 1314.6,944.7 1315.8,946.9 1317.1,949.0 1318.4,951.2 1319.7,953.3 1320.9,955.5 1322.2,957.6 1323.5,959.8 1324.8,961.9 1326.0,964.1 1327.3,966.2 1328.6,968.4 1329.9,970.5 1331.2,972.7 1332.5,974.8 1333.8,976.9 1335.1,979.1 1336.4,981.2 1337.7,983.4 1339.0,985.5 1340.3,987.6 1341.6,989.8 1342.9,991.9 1344.2,994.0 1345.5,996.2 1346.8,998.3 1348.1,1000.4 1349.4,1002.5 1350.7,1004.7 1352.0,1006.8 1353.3,1008.9 1354.7,1011.1 1356.0,1013.2 1357.3,1015.3 1358.6,1017.4 1359.9,1019.5 1361.3,1021.7 1362.6,1023.8 1363.9,1025.9 1365.2,1028.0 1366.6,1030.1 1367.9,1032.3 1369.2,1034.4 1370.6,1036.5 1371.9,1038.6 1373.2,1040.7 1374.6,1042.8 1375.9,1044.9 1377.3,1047.0 1378.6,1049.2 1379.9,1051.3 1381.3,1053.4 1382.6,1055.5 1384.0,1057.6 1385.3,1059.7 1386.7,1061.8 1388.0,1063.9 1389.4,1066.0 1390.7,1068.1 1392.1,1070.2 1393.4,1072.3 1394.8,1074.4 1396.1,1076.5 1397.5,1078.6 1398.8,1080.7 1400.2,1082.8 1401.6,1084.9 1402.9,1087.0 1404.3,1089.1 1405.6,1091.2 1407.0,1093.3 1408.4,1095.4 1409.7,1097.5 1411.1,1099.6 1412.4,1101.7 1413.8,1103.8 1415.2,1105.9 1416.5,1108.0 1417.9,1110.1 1419.3,1112.2 1420.7,1114.3 1422.0,1116.3 1423.4,1118.4 1424.8,1120.5 1426.2,1122.6 1427.5,1124.7 1428.9,1126.8 1430.3,1128.9 1431.7,1130.9 1433.1,1133.0 1434.5,1135.1 1435.8,1137.2 1437.2,1139.3 1438.6,1141.3 1440.0,1143.4 1441.4,1145.5 1442.8,1147.5 1444.2,1149.6 1445.6,1151.7 1447.0,1153.8 1448.5,1155.8 1449.9,1157.9 1451.3,1159.9 1452.7,1162.0 1454.1,1164.1 1455.5,1166.1 1457.0,1168.2 1458.4,1170.2 1459.8,1172.3 1461.3,1174.3 1462.7,1176.3 1464.2,1178.4 1465.6,1180.4 1467.1,1182.4 1468.6,1184.5 1470.0,1186.5 1471.5,1188.5 1473.0,1190.5 1474.5,1192.5 1476.0,1194.5 1477.5,1196.5 1479.0,1198.5 1480.5,1200.5 1482.0,1202.5 1483.6,1204.5 1485.1,1206.4 1486.6,1208.4 1488.2,1210.4 1489.8,1212.3 1491.3,1214.3 1492.9,1216.2 1494.5,1218.1 1496.1,1220.1 1497.7,1222.0 1499.3,1223.9 1500.9,1225.8 1502.5,1227.7 1504.2,1229.6 1505.8,1231.5 1507.5,1233.3 1509.1,1235.2 1510.8,1237.1 1512.5,1238.9 1514.2,1240.8 1515.9,1242.6 1517.6,1244.4 1519.3,1246.3 1521.0,1248.1 1522.7,1249.9 1524.4,1251.7 1526.2,1253.5 1527.9,1255.3 1529.6,1257.1 1531.4,1258.9 1533.1,1260.7 1534.9,1262.5 1536.6,1264.2 1538.4,1266.0 1540.2,1267.8 1541.9,1269.6 1543.7,1271.3 1545.5,1273.1 1547.3,1274.8 1549.0,1276.6 1550.8,1278.3 1552.6,1280.1 1554.4,1281.8 1556.2,1283.6 1558.0,1285.3 1559.8,1287.1 1561.6,1288.8 1563.4,1290.5 1565.2,1292.3 1567.0,1294.0 1568.8,1295.7 1570.6,1297.5 1572.4,1299.2 1574.2,1300.9 1576.0,1302.7 1577.8,1304.4 1579.6,1306.1 1581.4,1307.9 1583.2,1309.6 1585.0,1311.3 1586.8,1313.0 1588.6,1314.8 1590.4,1316.5 1592.3,1318.2 1594.1,1319.9 1595.9,1321.6 1597.7,1323.3 1599.6,1325.0 1601.4,1326.8 1603.2,1328.5 1605.1,1330.1 1606.9,1331.8 1608.7,1333.5 1610.6,1335.2 1612.5,1336.9 1614.3,1338.5 1616.2,1340.2 1618.1,1341.9 1619.9,1343.5 1621.8,1345.2 1623.7,1346.8 1625.6,1348.4 1627.5,1350.0 1629.4,1351.6 1631.3,1353.3 1633.3,1354.8 1635.2,1356.4 1637.1,1358.0 1639.1,1359.6 1641.0,1361.1 1643.0,1362.7 1645.0,1364.2 1647.0,1365.7 1648.9,1367.3 1650.9,1368.8 1653.0,1370.2 1655.0,1371.7 1657.0,1373.2 1659.0,1374.6 1661.1,1376.1 1663.1,1377.5 1665.2,1378.9 1667.3,1380.3 1669.4,1381.7 1671.5,1383.0 1673.6,1384.4 1675.7,1385.7 1677.8,1387.0 1680.0,1388.3 1682.1,1389.6 1684.3,1390.9 1686.4,1392.1 1688.6,1393.3 1690.8,1394.5 1693.0,1395.7 1695.2,1396.9 1697.4,1398.0 1699.7,1399.2 1701.9,1400.3 1704.2,1401.4 1706.4,1402.4 1708.7,1403.5 1710.9,1404.6 1713.2,1405.6 1715.5,1406.6 1717.8,1407.6 1720.1,1408.6 1722.4,1409.6 1724.7,1410.5 1727.0,1411.5 1729.3,1412.4 1731.7,1413.3 1734.0,1414.2 1736.3,1415.1 1738.7,1415.9 1741.0,1416.8 1743.4,1417.6 1745.7,1418.5 1748.1,1419.3 1750.5,1420.1 1752.8,1420.9 1755.2,1421.7 1757.6,1422.4 1760.0,1423.2 1762.4,1423.9 1764.8,1424.7 1767.2,1425.4 1769.5,1426.1 1771.9,1426.8 1774.4,1427.5 1776.8,1428.2 1779.2,1428.9 1781.6,1429.5 1784.0,1430.2 1786.4,1430.8 1788.8,1431.5 1791.2,1432.1 1793.7,1432.7 1796.1,1433.3 1798.5,1433.9 1800.9,1434.5 1803.4,1435.1 1805.8,1435.7 1808.2,1436.3 1810.7,1436.8 1813.1,1437.4 1815.5,1437.9 1818.0,1438.5 1820.4,1439.0 1822.9,1439.6 1825.3,1440.1 1827.7,1440.6 1830.2,1441.2 1832.6,1441.7 1835.1,1442.2 1837.5,1442.7 1840.0,1443.2 1842.4,1443.7 1844.9,1444.2 1847.3,1444.7 1849.8,1445.2 1852.2,1445.7 1854.7,1446.1 1857.1,1446.6 1859.6,1447.1 1862.1,1447.5 1864.5,1448.0 1867.0,1448.5 1869.4,1448.9 1871.9,1449.4 1874.4,1449.8 1876.8,1450.2 1879.3,1450.7 1881.7,1451.1 1884.2,1451.5 1886.7,1451.9 1889.1,1452.3 1891.6,1452.7 1894.1,1453.2 1896.5,1453.6 1899.0,1454.0 1901.5,1454.3 1903.9,1454.7 1906.4,1455.1 1908.9,1455.5 1911.4,1455.9 1913.8,1456.2 1916.3,1456.6 1918.8,1457.0 1921.3,1457.3 1923.7,1457.7 1926.2,1458.0 1928.7,1458.4 1931.2,1458.7 1933.6,1459.1 1936.1,1459.4 1938.6,1459.7 1941.1,1460.1 1943.5,1460.4 1946.0,1460.7 1948.5,1461.0 1951.0,1461.3 1953.5,1461.6 1955.9,1461.9 1958.4,1462.2 1960.9,1462.5 1963.4,1462.8 1965.9,1463.1 1968.4,1463.4 1970.8,1463.7 1973.3,1464.0 1975.8,1464.3 1978.3,1464.5 1980.8,1464.8 1983.3,1465.1 1985.8,1465.3 1988.2,1465.6 1990.7,1465.8 1993.2,1466.1 1995.7,1466.3 1998.2,1466.6 2000.7,1466.8 2003.2,1467.1 2005.7,1467.3 2008.1,1467.5 2010.6,1467.8 2013.1,1468.0 2015.6,1468.2 2018.1,1468.4 2020.6,1468.7 2023.1,1468.9 2025.6,1469.1 2028.1,1469.3 2030.6,1469.5 2033.0,1469.7 2035.5,1469.9 2038.0,1470.1 2040.5,1470.3 2043.0,1470.5 2045.5,1470.7 2048.0,1470.9 2050.5,1471.1 2053.0,1471.2 2055.5,1471.4 2058.0,1471.6 2060.5,1471.8 2063.0,1471.9 2065.5,1472.1 2068.0,1472.3 2070.4,1472.4 2072.9,1472.6 2075.4,1472.7 2077.9,1472.9 2080.4,1473.1 2082.9,1473.2 2085.4,1473.3 2087.9,1473.5 2090.4,1473.6 2092.9,1473.8 2095.4,1473.9 2097.9,1474.1 2100.4,1474.2 2102.9,1474.3 2105.4,1474.5 2107.9,1474.6 2110.4,1474.7 2112.9,1474.8 2115.4,1475.0 2117.9,1475.1 2120.4,1475.2 2122.9,1475.3 2125.4,1475.4 2127.9,1475.5 2130.4,1475.6 2132.9,1475.8 2135.4,1475.9 2137.9,1476.0 2140.4,1476.1 2142.9,1476.2 2145.3,1476.3 2147.8,1476.4 2150.3,1476.5 2152.8,1476.6 2155.3,1476.6 2157.8,1476.7 2160.3,1476.8 2162.8,1476.9 2165.3,1477.0 2167.8,1477.1 2170.3,1477.2 2172.8,1477.3 2175.3,1477.3 2177.8,1477.4 2180.3,1477.5 2182.8,1477.6 2185.3,1477.6 2187.8,1477.7 2190.3,1477.8 2192.8,1477.9 2195.3,1477.9 2197.8,1478.0 2200.3,1478.1 2202.8,1478.1 2205.3,1478.2 2207.8,1478.3 2210.3,1478.3 2212.8,1478.4 2215.3,1478.5 2217.8,1478.5 2220.3,1478.6 2222.8,1478.6 2225.3,1478.7 2227.8,1478.8 2230.3,1478.8 2232.8,1478.9 2235.3,1478.9 2237.8,1479.0 2240.3,1479.0 2242.8,1479.1 2245.3,1479.1 2247.8,1479.2 2250.3,1479.2 2252.8,1479.3 2255.3,1479.3 2257.8,1479.4 2260.3,1479.4 2262.8,1479.5 2265.3,1479.5 2267.8,1479.6 2270.3,1479.6 2272.8,1479.7 2275.3,1479.7 2277.8,1479.8 2280.0,1479.8" stroke="#9000c8"/>
<path d="M745.3,5.9 746.1,8.3 747.0,10.6 747.9,12.9 748.8,15.3 749.7,17.6 750.6,19.9 751.5,22.3 752.4,24.6 753.3,26.9 754.2,29.3 755.1,31.6 756.0,33.9 756.9,36.3 757.8,38.6 758.7,40.9 759.6,43.2 760.6,45.6 761.5,47.9 762.4,50.2 763.3,52.5 764.2,54.9 765.2,57.2 766.1,59.5 767.0,61.8 768.0,64.2 768.9,66.5 769.8,68.8 770.8,71.1 771.7,73.4 772.7,75.7 773.6,78.1 774.6,80.4 775.5,82.7 776.5,85.0 777.4,87.3 778.4,89.6 779.3,91.9 780.3,94.2 781.3,96.5 782.2,98.8 783.2,101.1 784.2,103.4 785.2,105.7 786.1,108.0 787.1,110.3 788.1,112.6 789.1,114.9 790.1,117.2 791.1,119.5 792.1,121.8 793.1,124.1 794.1,126.4 795.1,128.7 796.1,131.0 797.1,133.3 798.1,135.5 799.1,137.8 800.1,140.1 801.2,142.4 802.2,144.7 803.2,147.0 804.3,149.2 805.3,151.5 806.3,153.8 807.4,156.0 808.4,158.3 809.5,160.6 810.5,162.9 811.6,165.1 812.6,167.4 813.7,169.7 814.8,171.9 815.8,174.2 816.9,176.4 818.0,178.7 819.1,180.9 820.1,183.2 821.2,185.4 822.3,187.7 823.4,189.9 824.5,192.2 825.6,194.4 826.7,196.7 827.8,198.9 828.9,201.2 830.1,203.4 831.2,205.6 832.3,207.9 833.4,210.1 834.6,212.3 835.7,214.5 836.8,216.8 838.0,219.0 839.1,221.2 840.3,223.4 841.4,225.7 842.6,227.9 843.8,230.1 844.9,232.3 846.1,234.5 847.3,236.7 848.5,238.9 849.6,241.1 850.8,243.3 852.0,245.5 853.2,247.7 854.4,249.9 855.6,252.1 856.8,254.3 858.1,256.5 859.3,258.6 860.5,260.8 861.7,263.0 863.0,265.2 864.2,267.3 865.4,269.5 866.7,271.7 867.9,273.8 869.2,276.0 870.4,278.2 871.7,280.3 873.0,282.5 874.2,284.6 875.5,286.8 876.8,288.9 878.1,291.1 879.4,293.2 880.7,295.3 882.0,297.5 883.3,299.6 884.6,301.7 885.9,303.9 887.2,306.0 888.6,308.1 889.9,310.2 891.2,312.3 892.6,314.4 893.9,316.6 895.3,318.7 896.6,320.8 898.0,322.9 899.4,324.9 900.7,327.0 902.1,329.1 903.5,331.2 904.9,333.3 906.3,335.4 907.7,337.4 909.1,339.5 910.5,341.6 911.9,343.6 913.3,345.7 914.7,347.7 916.2,349.8 917.6,351.8 919.0,353.9 920.5,355.9 921.9,358.0 923.4,360.0 924.9,362.0 926.3,364.0 927.8,366.1 929.3,368.1 930.8,370.1 932.2,372.1 933.7,374.1 935.2,376.1 936.7,378.1 938.2,380.1 939.8,382.1 941.3,384.1 942.8,386.1 944.3,388.1 945.8,390.0 947.4,392.0 948.9,394.0 950.5,395.9 952.0,397.9 953.5,399.9 955.1,401.8 956.7,403.8 958.2,405.7 959.8,407.7 961.3,409.6 962.9,411.6 964.5,413.5 966.1,415.5 967.6,417.4 969.2,419.3 970.8,421.3 972.4,423.2 974.0,425.1 975.6,427.1 977.2,429.0 978.8,430.9 980.4,432.8 982.0,434.7 983.6,436.7 985.2,438.6 986.8,440.5 988.4,442.4 990.0,444.3 991.7,446.2 993.3,448.1 994.9,450.0 996.5,451.9 998.1,453.8 999.8,455.7 1001.4,457.6 1003.0,459.5 1004.7,461.4 1006.3,463.3 1007.9,465.2 1009.6,467.1 1011.2,469.0 1012.8,470.9 1014.5,472.8 1016.1,474.6 1017.8,476.5 1019.4,478.4 1021.0,480.3 1022.7,482.2 1024.3,484.1 1026.0,486.0 1027.6,487.8 1029.3,489.7 1030.9,491.6 1032.5,493.5 1034.2,495.4 1035.8,497.3 1037.5,499.1 1039.1,501.0 1040.8,502.9 1042.4,504.8 1044.1,506.7 1045.7,508.5 1047.3,510.4 1049.0,512.3 1050.6,514.2 1052.3,516.1 1053.9,518.0 1055.6,519.9 1057.2,521.7 1058.8,523.6 1060.5,525.5 1062.1,527.4 1063.8,529.3 1065.4,531.2 1067.0,533.1 1068.7,535.0 1070.3,536.9 1071.9,538.8 1073.5,540.7 1075.2,542.6 1076.8,544.5 1078.4,546.4 1080.0,548.3 1081.7,550.2 1083.3,552.1 1084.9,554.0 1086.5,555.9 1088.1,557.8 1089.7,559.7 1091.3,561.6 1092.9,563.5 1094.6,565.5 1096.2,567.4 1097.7,569.3 1099.3,571.2 1100.9,573.2 1102.5,575.1 1104.1,577.0 1105.7,578.9 1107.3,580.9 1108.9,582.8 1110.4,584.8 1112.0,586.7 1113.6,588.7 1115.1,590.6 1116.7,592.6 1118.3,594.5 1119.8,596.5 1121.4,598.4 1122.9,600.4 1124.4,602.4 1126.0,604.3 1127.5,606.3 1129.0,608.3 1130.6,610.3 1132.1,612.3 1133.6,614.2 1135.1,616.2 1136.6,618.2 1138.1,620.2 1139.6,622.2 1141.1,624.2 1142.6,626.2 1144.1,628.2 1145.6,630.3 1147.1,632.3 1148.5,634.3 1150.0,636.3 1151.4,638.4 1152.9,640.4 1154.3,642.4 1155.8,644.5 1157.2,646.5 1158.7,648.6 1160.1,650.6 1161.5,652.7 1162.9,654.7 1164.3,656.8 1165.7,658.9 1167.1,661.0 1168.5,663.0 1169.9,665.1 1171.2,667.2 1172.6,669.3 1174.0,671.4 1175.3,673.5 1176.7,675.6 1178.0,677.7 1179.3,679.8 1180.7,682.0 1182.0,684.1 1183.3,686.2 1184.6,688.4 1185.9,690.5 1187.2,692.6 1188.5,694.8 1189.7,696.9 1191.0,699.1 1192.3,701.2 1193.5,703.4 1194.8,705.6 1196.0,707.7 1197.3,709.9 1198.5,712.1 1199.8,714.2 1201.0,716.4 1202.2,718.6 1203.4,720.8 1204.6,723.0 1205.8,725.2 1207.0,727.4 1208.2,729.5 1209.4,731.7 1210.6,733.9 1211.8,736.1 1213.0,738.3 1214.2,740.5 1215.4,742.8 1216.5,745.0 1217.7,747.2 1218.9,749.4 1220.0,751.6 1221.2,753.8 1222.3,756.0 1223.5,758.2 1224.7,760.5 1225.8,762.7 1227.0,764.9 1228.1,767.1 1229.3,769.3 1230.4,771.6 1231.5,773.8 1232.7,776.0 1233.8,778.2 1235.0,780.5 1236.1,782.7 1237.2,784.9 1238.4,787.1 1239.5,789.4 1240.6,791.6 1241.8,793.8 1242.9,796.0 1244.1,798.3 1245.2,800.5 1246.3,802.7 1247.5,805.0 1248.6,807.2 1249.7,809.4 1250.9,811.6 1252.0,813.9 1253.2,816.1 1254.3,818.3 1255.4,820.5 1256.6,822.7 1257.7,825.0 1258.9,827.2 1260.0,829.4 1261.2,831.6 1262.4,833.8 1263.5,836.1 1264.7,838.3 1265.8,840.5 1267.0,842.7 1268.2,844.9 1269.3,847.1 1270.5,849.3 1271.7,851.5 1272.9,853.7 1274.1,855.9 1275.2,858.1 1276.4,860.3 1277.6,862.5 1278.8,864.7 1280.0,866.9 1281.2,869.1 1282.4,871.3 1283.6,873.5 1284.8,875.7 1286.0,877.9 1287.2,880.1 1288.5,882.2 1289.7,884.4 1290.9,886.6 1292.1,888.8 1293.3,891.0 1294.6,893.2 1295.8,895.3 1297.0,897.5 1298.3,899.7 1299.5,901.9 1300.7,904.0 1302.0,906.2 1303.2,908.4 1304.5,910.5 1305.7,912.7 1307.0,914.9 1308.2,917.0 1309.5,919.2 1310.7,921.4 1312.0,923.5 1313.2,925.7 1314.5,927.8 1315.8,930.0 1317.0,932.1 1318.3,934.3 1319.6,936.5 1320.8,938.6 1322.1,940.8 1323.4,942.9 1324.7,945.1 1325.9,947.2 1327.2,949.3 1328.5,951.5 1329.8,953.6 1331.1,955.8 1332.4,957.9 1333.7,960.1 1335.0,962.2 1336.3,964.3 1337.6,966.5 1338.9,968.6 1340.2,970.7 1341.5,972.9 1342.8,975.0 1344.1,977.1 1345.4,979.3 1346.7,981.4 1348.0,983.5 1349.3,985.6 1350.7,987.8 1352.0,989.9 1353.3,992.0 1354.6,994.1 1355.9,996.3 1357.3,998.4 1358.6,1000.5 1359.9,1002.6 1361.3,1004.7 1362.6,1006.8 1363.9,1009.0 1365.3,1011.1 1366.6,1013.2 1368.0,1015.3 1369.3,1017.4 1370.6,1019.5 1372.0,1021.6 1373.3,1023.7 1374.7,1025.8 1376.0,1027.9 1377.4,1030.0 1378.8,1032.1 1380.1,1034.2 1381.5,1036.3 1382.8,1038.4 1384.2,1040.5 1385.6,1042.6 1386.9,1044.7 1388.3,1046.8 1389.7,1048.9 1391.0,1051.0 1392.4,1053.1 1393.8,1055.1 1395.2,1057.2 1396.6,1059.3 1397.9,1061.4 1399.3,1063.5 1400.7,1065.6 1402.1,1067.6 1403.5,1069.7 1404.9,1071.8 1406.3,1073.9 1407.6,1075.9 1409.0,1078.0 1410.4,1080.1 1411.8,1082.2 1413.2,1084.2 1414.6,1086.3 1416.0,1088.4 1417.4,1090.4 1418.9,1092.5 1420.3,1094.6 1421.7,1096.6 1423.1,1098.7 1424.5,1100.8 1425.9,1102.8 1427.3,1104.9 1428.7,1107.0 1430.2,1109.0 1431.6,1111.1 1433.0,1113.1 1434.4,1115.2 1435.9,1117.2 1437.3,1119.3 1438.7,1121.3 1440.1,1123.4 1441.6,1125.4 1443.0,1127.5 1444.4,1129.5 1445.9,1131.6 1447.3,1133.6 1448.8,1135.7 1450.2,1137.7 1451.6,1139.8 1453.1,1141.8 1454.5,1143.8 1456.0,1145.9 1457.4,1147.9 1458.9,1149.9 1460.3,1152.0 1461.8,1154.0 1463.2,1156.0 1464.7,1158.1 1466.2,1160.1 1467.6,1162.1 1469.1,1164.2 1470.5,1166.2 1472.0,1168.2 1473.5,1170.2 1475.0,1172.2 1476.5,1174.3 1477.9,1176.3 1479.4,1178.3 1480.9,1180.3 1482.4,1182.3 1483.9,1184.3 1485.4,1186.3 1487.0,1188.3 1488.5,1190.2 1490.0,1192.2 1491.5,1194.2 1493.1,1196.2 1494.6,1198.1 1496.2,1200.1 1497.7,1202.0 1499.3,1204.0 1500.9,1205.9 1502.5,1207.9 1504.0,1209.8 1505.6,1211.7 1507.3,1213.6 1508.9,1215.5 1510.5,1217.4 1512.1,1219.3 1513.8,1221.2 1515.4,1223.1 1517.1,1225.0 1518.7,1226.8 1520.4,1228.7 1522.1,1230.5 1523.8,1232.4 1525.5,1234.2 1527.2,1236.0 1528.9,1237.8 1530.7,1239.6 1532.4,1241.5 1534.1,1243.2 1535.9,1245.0 1537.6,1246.8 1539.4,1248.6 1541.1,1250.4 1542.9,1252.2 1544.7,1253.9 1546.4,1255.7 1548.2,1257.4 1550.0,1259.2 1551.8,1260.9 1553.6,1262.7 1555.4,1264.4 1557.2,1266.2 1559.0,1267.9 1560.8,1269.6 1562.6,1271.4 1564.4,1273.1 1566.2,1274.8 1568.0,1276.5 1569.8,1278.3 1571.6,1280.0 1573.4,1281.7 1575.2,1283.4 1577.1,1285.2 1578.9,1286.9 1580.7,1288.6 1582.5,1290.3 1584.3,1292.1 1586.1,1293.8 1587.9,1295.5 1589.7,1297.2 1591.5,1299.0 1593.3,1300.7 1595.2,1302.4 1597.0,1304.1 1598.8,1305.9 1600.6,1307.6 1602.4,1309.3 1604.2,1311.0 1606.0,1312.7 1607.8,1314.5 1609.6,1316.2 1611.5,1317.9 1613.3,1319.6 1615.1,1321.3 1616.9,1323.0 1618.8,1324.7 1620.6,1326.4 1622.4,1328.1 1624.3,1329.8 1626.1,1331.5 1627.9,1333.2 1629.8,1334.9 1631.6,1336.6 1633.5,1338.3 1635.3,1339.9 1637.2,1341.6 1639.1,1343.3 1640.9,1344.9 1642.8,1346.6 1644.7,1348.2 1646.6,1349.9 1648.5,1351.5 1650.4,1353.2 1652.3,1354.8 1654.2,1356.4 1656.1,1358.0 1658.0,1359.6 1659.9,1361.2 1661.9,1362.8 1663.8,1364.4 1665.7,1366.0 1667.7,1367.5 1669.6,1369.1 1671.6,1370.6 1673.6,1372.2 1675.5,1373.7 1677.5,1375.2 1679.5,1376.7 1681.5,1378.2 1683.5,1379.7 1685.6,1381.2 1687.6,1382.7 1689.6,1384.1 1691.7,1385.6 1693.7,1387.0 1695.8,1388.4 1697.8,1389.8 1699.9,1391.2 1702.0,1392.6 1704.1,1393.9 1706.2,1395.3 1708.3,1396.6 1710.4,1398.0 1712.6,1399.3 1714.7,1400.6 1716.8,1401.8 1719.0,1403.1 1721.2,1404.3 1723.3,1405.6 1725.5,1406.8 1727.7,1408.0 1729.9,1409.1 1732.2,1410.3 1734.4,1411.4 1736.6,1412.6 1738.9,1413.7 1741.1,1414.7 1743.4,1415.8 1745.6,1416.8 1747.9,1417.9 1750.2,1418.9 1752.5,1419.9 1754.8,1420.8 1757.1,1421.8 1759.4,1422.7 1761.8,1423.7 1764.1,1424.6 1766.4,1425.5 1768.8,1426.3 1771.1,1427.2 1773.5,1428.1 1775.8,1428.9 1778.2,1429.7 1780.5,1430.5 1782.9,1431.3 1785.3,1432.1 1787.7,1432.9 1790.1,1433.6 1792.4,1434.4 1794.8,1435.1 1797.2,1435.8 1799.6,1436.5 1802.0,1437.2 1804.4,1437.9 1806.8,1438.6 1809.2,1439.3 1811.6,1440.0 1814.1,1440.6 1816.5,1441.3 1818.9,1441.9 1821.3,1442.5 1823.7,1443.2 1826.1,1443.8 1828.6,1444.4 1831.0,1445.0 1833.4,1445.6 1835.9,1446.2 1838.3,1446.8 1840.7,1447.4 1843.1,1447.9 1845.6,1448.5 1848.0,1449.1 1850.5,1449.6 1852.9,1450.2 1855.3,1450.7 1857.8,1451.2 1860.2,1451.8 1862.7,1452.3 1865.1,1452.8 1867.6,1453.3 1870.0,1453.8 1872.5,1454.3 1874.9,1454.8 1877.4,1455.3 1879.8,1455.8 1882.3,1456.3 1884.7,1456.7 1887.2,1457.2 1889.6,1457.7 1892.1,1458.1 1894.6,1458.6 1897.0,1459.0 1899.5,1459.5 1901.9,1459.9 1904.4,1460.3 1906.9,1460.7 1909.3,1461.2 1911.8,1461.6 1914.3,1462.0 1916.7,1462.4 1919.2,1462.8 1921.7,1463.2 1924.1,1463.6 1926.6,1463.9 1929.1,1464.3 1931.5,1464.7 1934.0,1465.0 1936.5,1465.4 1939.0,1465.8 1941.4,1466.1 1943.9,1466.5 1946.4,1466.8 1948.9,1467.2 1951.4,1467.5 1953.8,1467.8 1956.3,1468.1 1958.8,1468.5 1961.3,1468.8 1963.7,1469.1 1966.2,1469.4 1968.7,1469.7 1971.2,1470.0 1973.7,1470.3 1976.2,1470.6 1978.6,1470.9 1981.1,1471.2 1983.6,1471.4 1986.1,1471.7 1988.6,1472.0 1991.1,1472.3 1993.6,1472.5 1996.0,1472.8 1998.5,1473.0 2001.0,1473.3 2003.5,1473.5 2006.0,1473.8 2008.5,1474.0 2011.0,1474.3 2013.5,1474.5 2015.9,1474.7 2018.4,1475.0 2020.9,1475.2 2023.4,1475.4 2025.9,1475.6 2028.4,1475.9 2030.9,1476.1 2033.4,1476.3 2035.9,1476.5 2038.4,1476.7 2040.8,1476.9 2043.3,1477.1 2045.8,1477.3 2048.3,1477.5 2050.8,1477.7 2053.3,1477.9 2055.8,1478.0 2058.3,1478.2 2060.8,1478.4 2063.3,1478.6 2065.8,1478.7 2068.3,1478.9 2070.8,1479.1 2073.3,1479.3 2075.8,1479.4 2078.3,1479.6 2080.7,1479.7 2083.2,1479.9 2085.7,1480.1 2088.2,1480.2 2090.7,1480.4 2093.2,1480.5 2095.7,1480.7 2098.2,1480.8 2100.7,1480.9 2103.2,1481.1 2105.7,1481.2 2108.2,1481.4 2110.7,1481.5 2113.2,1481.6 2115.7,1481.8 2118.2,1481.9 2120.7,1482.0 2123.2,1482.2 2125.7,1482.3 2128.2,1482.4 2130.7,1482.5 2133.2,1482.7 2135.7,1482.8 2138.2,1482.9 2140.7,1483.0 2143.2,1483.1 2145.7,1483.3 2148.1,1483.4 2150.6,1483.5 2153.1,1483.6 2155.6,1483.7 2158.1,1483.8 2160.6,1483.9 2163.1,1484.1 2165.6,1484.2 2168.1,1484.3 2170.6,1484.4 2173.1,1484.5 2175.6,1484.6 2178.1,1484.7 2180.6,1484.8 2183.1,1484.9 2185.6,1485.0 2188.1,1485.1 2190.6,1485.2 2193.1,1485.4 2195.6,1485.5 2198.1,1485.6 2200.6,1485.7 2203.1,1485.8 2205.6,1485.9 2208.1,1486.0 2210.6,1486.1 2213.1,1486.2 2215.6,1486.3 2218.1,1486.4 2220.6,1486.5 2223.1,1486.6 2225.6,1486.7 2228.1,1486.8 2230.6,1486.9 2233.1,1487.0 2235.6,1487.1 2238.1,1487.3 2240.6,1487.4 2243.1,1487.5 2245.6,1487.6 2248.1,1487.7 2250.6,1487.8 2253.0,1487.9 2255.5,1488.0 2258.0,1488.2 2260.5,1488.3 2263.0,1488.4 2265.5,1488.5 2268.0,1488.6 2270.5,1488.7 2273.0,1488.9 2275.5,1489.0 2278.0,1489.1 2280.0,1489.2" stroke="#ff7700"/>
</g>
<line x1="1062.4" y1="498.8" x2="1150.5" y2="393.5" stroke="#000" stroke-width="1.6"/>
<g stroke="#000" stroke-width="4.8" stroke-linecap="butt">
<line x1="271" y1="19.4" x2="271" y2="1524" />
<line x1="253" y1="1504.7" x2="2281" y2="1504.7" />
<line x1="252" y1="1174.3" x2="271" y2="1174.3" />
<line x1="252" y1="844.0" x2="271" y2="844.0" />
<line x1="252" y1="513.6" x2="271" y2="513.6" />
<line x1="252" y1="183.3" x2="271" y2="183.3" />
<line x1="257" y1="1339.5" x2="271" y2="1339.5" />
<line x1="257" y1="1009.2" x2="271" y2="1009.2" />
<line x1="257" y1="678.8" x2="271" y2="678.8" />
<line x1="257" y1="348.5" x2="271" y2="348.5" />
<line x1="257" y1="19.8" x2="271" y2="19.8" />
<line x1="605.5" y1="1504.7" x2="605.5" y2="1524" />
<line x1="940.0" y1="1504.7" x2="940.0" y2="1524" />
<line x1="1274.5" y1="1504.7" x2="1274.5" y2="1524" />
<line x1="1609.0" y1="1504.7" x2="1609.0" y2="1524" />
<line x1="1943.5" y1="1504.7" x2="1943.5" y2="1524" />
<line x1="2278.0" y1="1504.7" x2="2278.0" y2="1524" />
<line x1="438.2" y1="1504.7" x2="438.2" y2="1518" />
<line x1="772.8" y1="1504.7" x2="772.8" y2="1518" />
<line x1="1107.2" y1="1504.7" x2="1107.2" y2="1518" />
<line x1="1441.8" y1="1504.7" x2="1441.8" y2="1518" />
<line x1="1776.2" y1="1504.7" x2="1776.2" y2="1518" />
<line x1="2110.8" y1="1504.7" x2="2110.8" y2="1518" />
</g>
<g>
<text x="241" y="1527.7" text-anchor="end" font-size="65.5">0</text>
<text x="241" y="1197.3" text-anchor="end" font-size="65.5">100</text>
<text x="241" y="867.0" text-anchor="end" font-size="65.5">200</text>
<text x="241" y="536.6" text-anchor="end" font-size="65.5">300</text>
<text x="241" y="206.3" text-anchor="end" font-size="65.5">400</text>
<text x="267.5" y="1598" text-anchor="middle" font-size="65.5">300</text>
<text x="604.0" y="1598" text-anchor="middle" font-size="65.5">400</text>
<text x="938.5" y="1598" text-anchor="middle" font-size="65.5">500</text>
<text x="1273.0" y="1598" text-anchor="middle" font-size="65.5">600</text>
<text x="1607.5" y="1598" text-anchor="middle" font-size="65.5">700</text>
<text x="1942.0" y="1598" text-anchor="middle" font-size="65.5">800</text>
<text x="2276.5" y="1598" text-anchor="middle" font-size="65.5">900</text>
<text x="1191.5" y="1698.5" text-anchor="middle" font-size="65">Wavelength (nm)</text>
<text transform="translate(69,823) rotate(-90)" text-anchor="middle" font-size="65.6">Absorbance</text>
<text x="829.5" y="98.5" font-size="78">120 min</text>
<text x="1151.5" y="377.5" font-size="78">3 months</text>
<text x="864.0" y="644.0" font-size="78">60min</text>
<text x="721.0" y="870.5" font-size="78">30 min</text>
<text x="1005.0" y="1101.0" font-size="78">558 nm</text>
<text x="810.5" y="1272.5" font-size="78">10 min</text>
<text x="693.0" y="1379.5" font-size="78">1 min</text>
</g>
</svg>
</body></html>
